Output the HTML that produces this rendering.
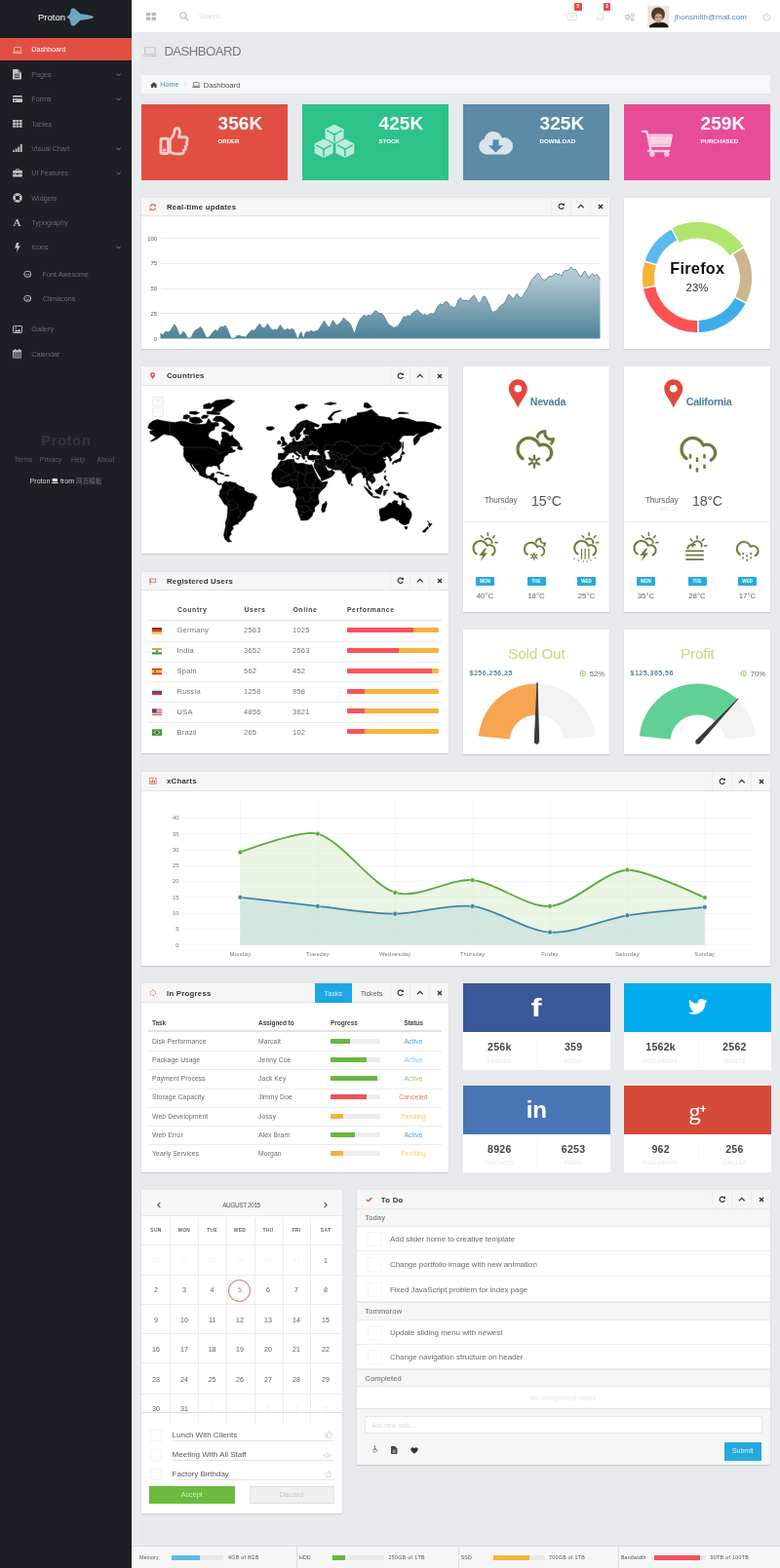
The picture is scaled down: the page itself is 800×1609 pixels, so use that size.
<!DOCTYPE html>
<html lang="en"><head><meta charset="utf-8"><title>Proton - Dashboard</title>
<style>
*{box-sizing:border-box;margin:0;padding:0}
html,body{width:800px;height:1609px;overflow:hidden}
body{background:#e7eaec;font-family:"Liberation Sans","Noto Sans CJK SC",sans-serif;position:relative;color:#666}
div,svg.i{position:absolute}
.t{white-space:nowrap;overflow:visible}
.p{background:#fff;box-shadow:0 1px 1px rgba(0,0,0,.1),0 0 0 .5px rgba(0,0,0,.03)}
.ph{background:#f6f6f6;border-bottom:1px solid #e3e3e3}
</style></head>
<body>
<div style="left:0px;top:0px;width:135px;height:1609px;background:#1c1f23"></div>
<div class="t" style="left:39.00px;top:11.00px;width:40px;line-height:13px;font-size:9.5px;color:#fff;font-weight:400;text-align:left;">Proton</div>
<svg class="i" style="left:68.3px;top:8.3px;" width="28" height="19" viewBox="0 0 28 19"><path d="M.5 9.5L3.500 6.800 5 1.200C6 .500 7.500.300 8.500.800L14.500 6.200 22 7.300 26.500 8.300 28 9.500 26.500 10.700 22 11.700 14.500 12.800 8.500 18.200C7.500 18.700 6 18.500 5 17.800L3.500 12.200z" fill="#6ea5c2"/></svg>
<div style="left:0px;top:39px;width:135px;height:23px;background:#e14f43"></div>
<svg class="i" style="left:13px;top:47.5px;" width="10" height="7" viewBox="0 0 20 14"><rect x="3.2" y="1" width="13.6" height="9" rx="1" fill="none" stroke="#f7c9c4" stroke-width="1.6"/><path d="M0 11.6h20v.6c0 .8-.8 1.4-1.8 1.4H1.8C.8 13.6 0 13 0 12.2z" fill="#f7c9c4"/></svg>
<div class="t" style="left:32.30px;top:46.20px;width:300px;line-height:10px;font-size:7.2px;color:#fff;font-weight:400;text-align:left;">Dashboard</div>
<svg class="i" style="left:13.0px;top:71.25px;" width="9" height="10.5" viewBox="0 0 12 14"><path d="M1 0h6.5L12 4.5V13a1 1 0 0 1-1 1H1a1 1 0 0 1-1-1V1a1 1 0 0 1 1-1z" fill="#bfc1c3"/><path d="M7.5 0v4.5H12z" fill="#1c1f23" opacity=".55"/><path d="M2.5 7h7M2.5 9.2h7M2.5 11.4h7" stroke="#1c1f23" stroke-width="1"/></svg>
<div class="t" style="left:32.30px;top:72.00px;width:300px;line-height:10px;font-size:7.2px;color:#666b70;font-weight:400;text-align:left;">Pages</div>
<svg class="i" style="left:118.5px;top:75.1px;" width="5.4" height="3.4" viewBox="0 0 8 5"><path d="M.8.8L4 4l3.2-3.2" fill="none" stroke="#5c6166" stroke-width="1.5"/></svg>
<svg class="i" style="left:12.5px;top:97.95px;" width="10" height="7.5" viewBox="0 0 16 12"><rect x="0" y="0" width="16" height="12" rx="1.3" fill="#bfc1c3"/><rect x="0" y="2.6" width="16" height="2.6" fill="#1c1f23"/><rect x="2" y="8" width="3.5" height="1.4" fill="#1c1f23"/></svg>
<div class="t" style="left:32.30px;top:97.20px;width:300px;line-height:10px;font-size:7.2px;color:#666b70;font-weight:400;text-align:left;">Forms</div>
<svg class="i" style="left:118.5px;top:100.3px;" width="5.4" height="3.4" viewBox="0 0 8 5"><path d="M.8.8L4 4l3.2-3.2" fill="none" stroke="#5c6166" stroke-width="1.5"/></svg>
<svg class="i" style="left:12.5px;top:123.0px;" width="10" height="8" viewBox="0 0 16 13"><rect x="0.0" y="0.0" width="4.6" height="3.6" rx=".5" fill="#bfc1c3"/><rect x="5.5" y="0.0" width="4.6" height="3.6" rx=".5" fill="#bfc1c3"/><rect x="11.0" y="0.0" width="4.6" height="3.6" rx=".5" fill="#bfc1c3"/><rect x="0.0" y="4.5" width="4.6" height="3.6" rx=".5" fill="#bfc1c3"/><rect x="5.5" y="4.5" width="4.6" height="3.6" rx=".5" fill="#bfc1c3"/><rect x="11.0" y="4.5" width="4.6" height="3.6" rx=".5" fill="#bfc1c3"/><rect x="0.0" y="9.0" width="4.6" height="3.6" rx=".5" fill="#bfc1c3"/><rect x="5.5" y="9.0" width="4.6" height="3.6" rx=".5" fill="#bfc1c3"/><rect x="11.0" y="9.0" width="4.6" height="3.6" rx=".5" fill="#bfc1c3"/></svg>
<div class="t" style="left:32.30px;top:122.50px;width:300px;line-height:10px;font-size:7.2px;color:#666b70;font-weight:400;text-align:left;">Tables</div>
<svg class="i" style="left:12.5px;top:148.3px;" width="10" height="8" viewBox="0 0 16 13"><rect x="0.0" y="10" width="3" height="3" fill="#bfc1c3"/><rect x="4.2" y="7.5" width="3" height="5.5" fill="#bfc1c3"/><rect x="8.4" y="4.5" width="3" height="8.5" fill="#bfc1c3"/><rect x="12.600000000000001" y="0" width="3" height="13" fill="#bfc1c3"/></svg>
<div class="t" style="left:32.30px;top:147.80px;width:300px;line-height:10px;font-size:7.2px;color:#666b70;font-weight:400;text-align:left;">Visual Chart</div>
<svg class="i" style="left:118.5px;top:150.9px;" width="5.4" height="3.4" viewBox="0 0 8 5"><path d="M.8.8L4 4l3.2-3.2" fill="none" stroke="#5c6166" stroke-width="1.5"/></svg>
<svg class="i" style="left:12.5px;top:173.35px;" width="10" height="8.5" viewBox="0 0 16 14"><path d="M5.5 3V1.6C5.5.9 6 .5 6.6.5h2.8c.6 0 1.1.4 1.1 1.1V3" fill="none" stroke="#bfc1c3" stroke-width="1.4"/><path d="M0 4a1 1 0 0 1 1-1h14a1 1 0 0 1 1 1v4H0z" fill="#bfc1c3"/><path d="M0 9h6v1.4h4V9h6v4a1 1 0 0 1-1 1H1a1 1 0 0 1-1-1z" fill="#bfc1c3"/></svg>
<div class="t" style="left:32.30px;top:173.10px;width:300px;line-height:10px;font-size:7.2px;color:#666b70;font-weight:400;text-align:left;">UI Features</div>
<svg class="i" style="left:118.5px;top:176.2px;" width="5.4" height="3.4" viewBox="0 0 8 5"><path d="M.8.8L4 4l3.2-3.2" fill="none" stroke="#5c6166" stroke-width="1.5"/></svg>
<svg class="i" style="left:12.5px;top:198.0px;" width="10" height="10" viewBox="0 0 14 14"><circle cx="7" cy="7" r="4.9" fill="none" stroke="#bfc1c3" stroke-width="3.6"/><path d="M2 2l3 3M12 2L9 5M2 12l3-3M12 12L9 9" stroke="#1c1f23" stroke-width="1.2"/></svg>
<div class="t" style="left:32.30px;top:198.50px;width:300px;line-height:10px;font-size:7.2px;color:#666b70;font-weight:400;text-align:left;">Widgets</div>
<div class="t" style="left:10.50px;top:220.50px;width:14px;line-height:15px;font-size:11px;color:#bfc1c3;font-weight:700;text-align:center;font-family:'Liberation Serif',serif;">A</div>
<div class="t" style="left:32.30px;top:223.80px;width:300px;line-height:10px;font-size:7.2px;color:#666b70;font-weight:400;text-align:left;">Typography</div>
<svg class="i" style="left:14.5px;top:248.6px;" width="6" height="10" viewBox="0 0 8 14"><path d="M2.6 0h3.6L4.6 4.6H8L2.4 14l1.2-6.2H0z" fill="#bfc1c3"/></svg>
<div class="t" style="left:32.30px;top:249.10px;width:300px;line-height:10px;font-size:7.2px;color:#666b70;font-weight:400;text-align:left;">Icons</div>
<svg class="i" style="left:118.5px;top:252.2px;" width="5.4" height="3.4" viewBox="0 0 8 5"><path d="M.8.8L4 4l3.2-3.2" fill="none" stroke="#5c6166" stroke-width="1.5"/></svg>
<svg class="i" style="left:12.5px;top:333.8px;" width="10" height="8" viewBox="0 0 16 13"><rect x=".8" y=".8" width="14.4" height="11.4" rx="1" fill="none" stroke="#bfc1c3" stroke-width="1.6"/><path d="M2.5 10.5l3.3-4 2.4 2.4 2.3-3.4 3 5z" fill="#bfc1c3"/><circle cx="5" cy="4" r="1.3" fill="#bfc1c3"/></svg>
<div class="t" style="left:32.30px;top:333.30px;width:300px;line-height:10px;font-size:7.2px;color:#666b70;font-weight:400;text-align:left;">Gallery</div>
<svg class="i" style="left:12.75px;top:358.45px;" width="9.5" height="9.5" viewBox="0 0 14 14"><path d="M0 3a1 1 0 0 1 1-1h12a1 1 0 0 1 1 1v10a1 1 0 0 1-1 1H1a1 1 0 0 1-1-1z" fill="#bfc1c3"/><rect x="3" y="0" width="1.8" height="3.6" rx=".6" fill="#bfc1c3"/><rect x="9.2" y="0" width="1.8" height="3.6" rx=".6" fill="#bfc1c3"/><rect x="1.3" y="5.2" width="2.2" height="2" fill="#1c1f23"/><rect x="4.3" y="5.2" width="2.2" height="2" fill="#1c1f23"/><rect x="7.3" y="5.2" width="2.2" height="2" fill="#1c1f23"/><rect x="10.3" y="5.2" width="2.2" height="2" fill="#1c1f23"/><rect x="1.3" y="8.0" width="2.2" height="2" fill="#1c1f23"/><rect x="4.3" y="8.0" width="2.2" height="2" fill="#1c1f23"/><rect x="7.3" y="8.0" width="2.2" height="2" fill="#1c1f23"/><rect x="10.3" y="8.0" width="2.2" height="2" fill="#1c1f23"/><rect x="1.3" y="10.8" width="2.2" height="2" fill="#1c1f23"/><rect x="4.3" y="10.8" width="2.2" height="2" fill="#1c1f23"/><rect x="7.3" y="10.8" width="2.2" height="2" fill="#1c1f23"/><rect x="10.3" y="10.8" width="2.2" height="2" fill="#1c1f23"/></svg>
<div class="t" style="left:32.30px;top:358.70px;width:300px;line-height:10px;font-size:7.2px;color:#666b70;font-weight:400;text-align:left;">Calendar</div>
<svg class="i" style="left:24.2px;top:277.1px;" width="8.4" height="8.4" viewBox="0 0 14 14"><ellipse cx="7" cy="7" rx="5.6" ry="5" fill="none" stroke="#aeb1b4" stroke-width="1.8"/><path d="M4 8h6" stroke="#aeb1b4" stroke-width="1.4"/></svg>
<div class="t" style="left:43.70px;top:276.60px;width:300px;line-height:10px;font-size:7.2px;color:#666b70;font-weight:400;text-align:left;">Font Awesome</div>
<svg class="i" style="left:24.2px;top:302.4px;" width="8.4" height="8.4" viewBox="0 0 14 14"><ellipse cx="7" cy="7" rx="5.6" ry="5" fill="none" stroke="#aeb1b4" stroke-width="1.8"/><path d="M4.2 6h1.6M8.2 6h1.6M4.5 9h5" stroke="#aeb1b4" stroke-width="1.3"/></svg>
<div class="t" style="left:43.70px;top:301.90px;width:300px;line-height:10px;font-size:7.2px;color:#666b70;font-weight:400;text-align:left;">Climacons</div>
<div class="t" style="left:0.30px;top:441.50px;width:135px;line-height:21px;font-size:14.8px;color:#32363b;font-weight:700;text-align:center;letter-spacing:.55px;">Proton</div>
<div class="t" style="left:4.00px;top:466.50px;width:40px;line-height:10px;font-size:6.8px;color:#5b6066;font-weight:400;text-align:center;">Terms</div>
<div class="t" style="left:32.00px;top:466.50px;width:40px;line-height:10px;font-size:6.8px;color:#5b6066;font-weight:400;text-align:center;">Privacy</div>
<div class="t" style="left:60.00px;top:466.50px;width:40px;line-height:10px;font-size:6.8px;color:#5b6066;font-weight:400;text-align:center;">Help</div>
<div class="t" style="left:88.50px;top:466.50px;width:40px;line-height:10px;font-size:6.8px;color:#5b6066;font-weight:400;text-align:center;">About</div>
<div class="t" style="left:0;top:489px;width:135px;line-height:10px;font-size:7.1px;color:#d9dadb;text-align:center">Proton <svg width="6.500" height="5.200" viewBox="0 0 10 8" style="vertical-align:-0.5px"><rect x="1" y="0" width="8" height="5" rx=".600" fill="#e8e8e8"/><rect x="0" y="6" width="10" height="1.600" rx=".500" fill="#e8e8e8"/></svg> from <span style="color:#74797e;font-size:6.6px">网页模板</span></div>
<div style="left:135px;top:33px;width:8.5px;height:1576px;background:#eaedef"></div>
<div style="left:135px;top:0px;width:665px;height:33px;background:#fff"></div>
<svg class="i" style="left:150px;top:13px;" width="10" height="8" viewBox="0 0 10 8"><rect x="0" y="0" width="4.4" height="3.2" rx=".5" fill="#b4b7ba"/><rect x="5.6" y="0" width="4.4" height="3.2" rx=".5" fill="#b4b7ba"/><rect x="0" y="4.6" width="4.4" height="3.2" rx=".5" fill="#b4b7ba"/><rect x="5.6" y="4.6" width="4.4" height="3.2" rx=".5" fill="#b4b7ba"/></svg>
<svg class="i" style="left:184px;top:12px;" width="9.5" height="9.5" viewBox="0 0 10 10"><circle cx="4.1" cy="4.1" r="3.2" fill="none" stroke="#c2c4c6" stroke-width="1.4"/><path d="M6.5 6.5L9.3 9.3" stroke="#c2c4c6" stroke-width="1.7" stroke-linecap="round"/></svg>
<div class="t" style="left:204.00px;top:12.30px;width:300px;line-height:10px;font-size:6.8px;color:#dcdee0;font-weight:400;text-align:left;">Search...</div>
<svg class="i" style="left:580.5px;top:13.2px;" width="11" height="8" viewBox="0 0 12 9"><rect x=".6" y=".6" width="10.8" height="7.8" rx="1" fill="none" stroke="#dfe1e3" stroke-width="1.1"/><path d="M1 2l5 3.6L11 2" fill="none" stroke="#dfe1e3" stroke-width="1.1"/></svg>
<div style="left:588.8px;top:3.2px;width:7.8px;height:8px;background:#ea4b4b;border-radius:.8px"></div>
<div class="t" style="left:588.70px;top:4.30px;width:8px;line-height:6px;font-size:4.5px;color:#fff;font-weight:700;text-align:center;">5</div>
<svg class="i" style="left:611px;top:12.3px;" width="9.5" height="10" viewBox="0 0 10 11"><path d="M5 1C3 1 2 2.6 2 4.6 2 7 1.2 8 .6 8.6h8.8C8.8 8 8 7 8 4.6 8 2.6 7 1 5 1z" fill="none" stroke="#dfe1e3" stroke-width="1.1"/><path d="M4 9.6a1 1 0 0 0 2 0" fill="none" stroke="#dfe1e3" stroke-width="1"/></svg>
<div style="left:618.6px;top:3.2px;width:7.8px;height:8px;background:#ea4b4b;border-radius:.8px"></div>
<div class="t" style="left:618.50px;top:4.30px;width:8px;line-height:6px;font-size:4.5px;color:#fff;font-weight:700;text-align:center;">3</div>
<svg class="i" style="left:639.5px;top:12.5px;" width="11" height="9" viewBox="0 0 12 10"><circle cx="4" cy="5" r="2.5" fill="none" stroke="#c6c8ca" stroke-width="2" stroke-dasharray="1.6 1"/><circle cx="4" cy="5" r="1.9" fill="none" stroke="#c6c8ca" stroke-width="1.2"/><circle cx="9.6" cy="2.4" r="1.5" fill="none" stroke="#c6c8ca" stroke-width="1.3"/><circle cx="9.6" cy="7.6" r="1.5" fill="none" stroke="#c6c8ca" stroke-width="1.3"/></svg>
<svg class="i" style="left:664.3px;top:6.3px" width="22.5" height="22.3" viewBox="0 0 45 45"><defs><filter id="avb" x="-10%" y="-10%" width="120%" height="120%"><feGaussianBlur stdDeviation="1.3"/></filter><clipPath id="avc"><rect width="45" height="45"/></clipPath></defs><rect width="45" height="45" fill="#e4e4e0"/><g clip-path="url(#avc)"><g filter="url(#avb)"><path d="M4 47V41c5-4 11-6 15-6.500h12c5 .500 9 2.500 12 6.500v6z" fill="#1c1917"/><ellipse cx="22" cy="17.500" rx="14" ry="14.500" fill="#4a3a2b"/><ellipse cx="23" cy="25" rx="8.300" ry="10.500" fill="#cda38b"/><path d="M14 20c3-4 13-5 18 0-1-6-4-9-9-9s-8 4-9 9z" fill="#5b4534"/><path d="M17 23.500h5M25 23.500h5" stroke="#6b4a3a" stroke-width="1.600"/><path d="M19 31c2 1.500 6 1.500 8 0" stroke="#a8705f" stroke-width="1.300" fill="none"/></g></g></svg>
<div class="t" style="left:692.00px;top:11.70px;width:300px;line-height:11px;font-size:7.95px;color:#4e8fb5;font-weight:400;text-align:left;">jhonsmith@mail.com</div>
<svg class="i" style="left:781.5px;top:13px;" width="8.5" height="8.5" viewBox="0 0 10 10"><path d="M3 2.2A3.9 3.9 0 1 0 7 2.2" fill="none" stroke="#cfd1d3" stroke-width="1.2" stroke-linecap="round"/><path d="M5 .6v4" stroke="#cfd1d3" stroke-width="1.2" stroke-linecap="round"/></svg>
<svg class="i" style="left:146px;top:47.5px;" width="15.5" height="10.5" viewBox="0 0 20 14"><rect x="3.2" y="1" width="13.6" height="9" rx="1" fill="none" stroke="#c3c7ca" stroke-width="1.6"/><path d="M0 11.6h20v.6c0 .8-.8 1.4-1.8 1.4H1.8C.8 13.6 0 13 0 12.2z" fill="#c3c7ca"/></svg>
<div class="t" style="left:168.40px;top:44.30px;width:300px;line-height:18px;font-size:13.2px;color:#767d84;font-weight:400;text-align:left;letter-spacing:-.55px;">DASHBOARD</div>
<div style="left:145px;top:77.3px;width:645px;height:19px;background:#f7f8f9"></div>
<svg class="i" style="left:153.6px;top:83.6px;" width="7.6" height="6.8" viewBox="0 0 10 9"><path d="M5 .3L0 4.6h1.4V8.7h2.7V5.9h1.8v2.8h2.7V4.6H10z" fill="#444"/></svg>
<div class="t" style="left:164.30px;top:82.30px;width:300px;line-height:10px;font-size:7.2px;color:#3d8fc4;font-weight:400;text-align:left;">Home</div>
<div class="t" style="left:189.00px;top:82.30px;width:300px;line-height:10px;font-size:6.8px;color:#d5d5d5;font-weight:400;text-align:left;">/</div>
<svg class="i" style="left:197px;top:84.4px;" width="8.5" height="5.8" viewBox="0 0 20 14"><rect x="3.2" y="1" width="13.6" height="9" rx="1" fill="none" stroke="#555" stroke-width="1.6"/><path d="M0 11.6h20v.6c0 .8-.8 1.4-1.8 1.4H1.8C.8 13.6 0 13 0 12.2z" fill="#555"/></svg>
<div class="t" style="left:208.50px;top:81.80px;width:300px;line-height:11px;font-size:7.8px;color:#555;font-weight:400;text-align:left;">Dashboard</div>
<div style="left:145px;top:107px;width:150px;height:78px;background:#e14f43"></div>
<svg class="i" style="left:162.95px;top:129.25px;" width="31.5" height="31.5" viewBox="0 0 32 32"><path d="M11.5 14.5c2.5-2.2 4.2-4.6 4.6-8.6.2-2 .9-3.4 2.6-3.4 2 0 3.1 1.7 3.1 4.2 0 1.9-.6 3.6-1.3 5.2h6.2c1.7 0 3 1.2 3 2.8 0 1-.5 1.9-1.200 2.400.5.5.8 1.200.8 2 0 1.200-.7 2.200-1.700 2.600.2.400.3.800.3 1.300 0 1.300-.9 2.300-2.100 2.600.1.300.1.600.1.900 0 1.700-1.400 2.800-3.400 2.800h-4.600c-2.600 0-4.500-.9-6.400-1.700z" fill="none" stroke="#f7cbc6" stroke-width="2.9" stroke-linejoin="round"/><rect x="2" y="13.5" width="7.5" height="15.5" rx="1" fill="none" stroke="#f7cbc6" stroke-width="2.9"/><rect x="4.2" y="24" width="3" height="3" fill="#f7cbc6"/></svg>
<div class="t" style="left:223.50px;top:112.80px;width:70px;line-height:27px;font-size:19px;color:#fff;font-weight:700;text-align:left;letter-spacing:.1px;">356K</div>
<div class="t" style="left:223.50px;top:140.30px;width:70px;line-height:9px;font-size:6.1px;color:#fff;font-weight:700;text-align:left;letter-spacing:0;">ORDER</div>
<div style="left:310px;top:107px;width:150px;height:78px;background:#2dc28a"></div>
<svg class="i" style="left:322.0px;top:128.0px;" width="42" height="34" viewBox="0 0 42 34"><path d="M12.1 4.9L21 0.3000000000000007L29.9 4.9L29.9 13.700000000000001L21 18.3L12.1 13.700000000000001Z" fill="#b9eed8" stroke="#b9eed8" stroke-width="1.2" stroke-linejoin="round"/><path d="M13.7 6.2L21 10.1L28.299999999999997 6.2M21 10.1L21 16.900000000000002" fill="none" stroke="#2dc28a" stroke-width="1.5" stroke-linejoin="round" stroke-linecap="round"/><path d="M1.1999999999999993 19.9L10.1 15.299999999999999L19.0 19.9L19.0 28.700000000000003L10.1 33.300000000000004L1.1999999999999993 28.700000000000003Z" fill="#b9eed8" stroke="#b9eed8" stroke-width="1.2" stroke-linejoin="round"/><path d="M2.7999999999999994 21.2L10.1 25.1L17.4 21.2M10.1 25.1L10.1 31.900000000000006" fill="none" stroke="#2dc28a" stroke-width="1.5" stroke-linejoin="round" stroke-linecap="round"/><path d="M23.0 19.9L31.9 15.299999999999999L40.8 19.9L40.8 28.700000000000003L31.9 33.300000000000004L23.0 28.700000000000003Z" fill="#b9eed8" stroke="#b9eed8" stroke-width="1.2" stroke-linejoin="round"/><path d="M24.6 21.2L31.9 25.1L39.199999999999996 21.2M31.9 25.1L31.9 31.900000000000006" fill="none" stroke="#2dc28a" stroke-width="1.5" stroke-linejoin="round" stroke-linecap="round"/></svg>
<div class="t" style="left:388.50px;top:112.80px;width:70px;line-height:27px;font-size:19px;color:#fff;font-weight:700;text-align:left;letter-spacing:.1px;">425K</div>
<div class="t" style="left:388.50px;top:140.30px;width:70px;line-height:9px;font-size:6.1px;color:#fff;font-weight:700;text-align:left;letter-spacing:0;">STOCK</div>
<div style="left:475px;top:107px;width:150px;height:78px;background:#5b8ba5"></div>
<svg class="i" style="left:490.2px;top:130.75px;" width="37" height="28.5" viewBox="0 0 36 28"><path d="M9 27a8 8 0 0 1-2.5-15.600A8.500 8.500 0 0 1 15 4a10 10 0 0 1 9.500 6.500 6.500 6.500 0 0 1 3.500-.5A8.600 8.600 0 0 1 28 27z" fill="#d9e4ea"/><path d="M15 12h6v6h4.500L18 25l-7.500-7H15z" fill="#5b8ba5"/></svg>
<div class="t" style="left:553.50px;top:112.80px;width:70px;line-height:27px;font-size:19px;color:#fff;font-weight:700;text-align:left;letter-spacing:.1px;">325K</div>
<div class="t" style="left:553.50px;top:140.30px;width:70px;line-height:9px;font-size:6.1px;color:#fff;font-weight:700;text-align:left;letter-spacing:0;">DOWNLOAD</div>
<div style="left:640px;top:107px;width:150px;height:78px;background:#e84c96"></div>
<svg class="i" style="left:657.7px;top:132.5px;" width="32" height="28" viewBox="0 0 34 30"><path d="M0 2h5.500l1.200 4H33l-2.500 12H9.500" fill="none" stroke="#f9cfe3" stroke-width="2.600" stroke-linejoin="round"/><path d="M6.700 6l3 14.500c.3 1.500-.7 3-2.200 3H31" fill="none" stroke="#f9cfe3" stroke-width="2.600" stroke-linejoin="round"/><path d="M7.500 7.500h24l-2 9H9.500z" fill="#f9cfe3"/><circle cx="11.500" cy="27" r="2.800" fill="#f9cfe3"/><circle cx="27.500" cy="27" r="2.800" fill="#f9cfe3"/></svg>
<div class="t" style="left:718.50px;top:112.80px;width:70px;line-height:27px;font-size:19px;color:#fff;font-weight:700;text-align:left;letter-spacing:.1px;">259K</div>
<div class="t" style="left:718.50px;top:140.30px;width:70px;line-height:9px;font-size:6.1px;color:#fff;font-weight:700;text-align:left;letter-spacing:0;">PURCHASED</div>
<div class="p" style="left:145px;top:202.5px;width:480px;height:155px;"></div>
<div class="ph" style="left:145px;top:202.5px;width:480px;height:19.5px;"></div>
<svg class="i" style="left:153.25px;top:208.5px;" width="7.5" height="7.5" viewBox="0 0 10 10"><path d="M1.300 4.300A3.800 3.800 0 0 1 8 2.400" fill="none" stroke="#e0574c" stroke-width="1.500"/><path d="M9.300.500v3.200H6.100z" fill="#e0574c"/><path d="M8.700 5.700A3.800 3.800 0 0 1 2 7.600" fill="none" stroke="#e0574c" stroke-width="1.500"/><path d="M.700 9.500V6.300h3.200z" fill="#e0574c"/></svg>
<div class="t" style="left:171.00px;top:206.85px;width:300px;line-height:11px;font-size:7.8px;color:#333;font-weight:700;text-align:left;letter-spacing:.24px;">Real-time updates</div>
<div style="left:565px;top:202.5px;width:1px;height:18.5px;background:#ededed"></div>
<svg class="i" style="left:571.7px;top:208.45px;" width="7.6" height="7.6" viewBox="0 0 10 10"><path d="M8.200 6.200A3.500 3.500 0 1 1 7.500 2.500" fill="none" stroke="#333" stroke-width="1.500"/><path d="M9.300.600v3.300H6z" fill="#333"/></svg>
<div style="left:585px;top:202.5px;width:1px;height:18.5px;background:#ededed"></div>
<svg class="i" style="left:591.7px;top:209.4px;" width="7.6" height="5.7" viewBox="0 0 8 6"><path d="M.9 4.6L4 1.5l3.1 3.100" fill="none" stroke="#333" stroke-width="1.35"/></svg>
<div style="left:605px;top:202.5px;width:1px;height:18.5px;background:#ededed"></div>
<svg class="i" style="left:612.5px;top:209.25px;" width="6" height="6" viewBox="0 0 8 8"><path d="M1.300 1.300l5.400 5.400M6.700 1.300L1.300 6.700" stroke="#333" stroke-width="1.900"/></svg>
<div style="left:164.5px;top:347px;width:451.0px;height:1px;background:#dcdcdc"></div>
<div class="t" style="left:141.00px;top:343.80px;width:20px;line-height:8px;font-size:5.8px;color:#555;font-weight:400;text-align:right;">0</div>
<div style="left:164.5px;top:321px;width:451.0px;height:1px;background:#e9e9e9"></div>
<div class="t" style="left:141.00px;top:317.98px;width:20px;line-height:8px;font-size:5.8px;color:#555;font-weight:400;text-align:right;">25</div>
<div style="left:164.5px;top:296px;width:451.0px;height:1px;background:#e9e9e9"></div>
<div class="t" style="left:141.00px;top:292.15px;width:20px;line-height:8px;font-size:5.8px;color:#555;font-weight:400;text-align:right;">50</div>
<div style="left:164.5px;top:270px;width:451.0px;height:1px;background:#e9e9e9"></div>
<div class="t" style="left:141.00px;top:266.33px;width:20px;line-height:8px;font-size:5.8px;color:#555;font-weight:400;text-align:right;">75</div>
<div style="left:164.5px;top:244px;width:451.0px;height:1px;background:#e9e9e9"></div>
<div class="t" style="left:141.00px;top:240.50px;width:20px;line-height:8px;font-size:5.8px;color:#555;font-weight:400;text-align:right;">100</div>
<svg class="i" style="left:0;top:0" width="800" height="360" viewBox="0 0 800 360"><defs><linearGradient id="rg" x1="0" y1="273" x2="0" y2="347" gradientUnits="userSpaceOnUse"><stop offset="0" stop-color="#c3d3da"/><stop offset=".45" stop-color="#8fafbd"/><stop offset="1" stop-color="#4d8298"/></linearGradient></defs><polygon points="164.5,347.3 164.4,342.1 167.0,343.7 169.0,341.1 171.0,340.1 173.0,341.1 175.0,339.0 177.0,335.9 179.0,332.8 181.0,335.9 183.0,341.1 184.0,343.7 186.0,343.2 188.0,340.1 190.0,342.1 192.0,346.3 193.5,347.3 196.0,346.8 198.0,342.1 200.0,339.0 203.0,337.5 205.5,335.4 207.0,337.0 209.0,341.1 211.0,345.8 213.0,346.8 216.0,344.2 218.0,341.1 221.0,338.5 223.0,340.1 225.0,337.0 227.0,334.9 229.0,335.9 231.0,333.9 233.0,337.0 235.0,342.1 237.0,346.8 240.0,347.3 243.0,344.7 246.0,344.2 248.0,345.8 250.0,345.2 252.0,346.3 254.0,343.2 256.0,341.1 258.5,338.5 260.0,339.6 262.0,338.0 264.0,334.9 266.5,332.3 268.0,334.9 270.0,337.0 272.0,335.9 274.5,332.3 276.0,334.9 278.0,337.5 280.0,339.0 282.0,338.0 284.0,339.0 286.0,335.9 287.5,333.4 289.0,335.9 291.0,338.5 293.0,339.0 295.0,337.0 297.0,339.0 299.0,337.5 301.0,338.0 303.0,342.1 304.5,346.8 306.0,347.3 308.0,342.1 309.0,340.6 310.0,344.2 311.5,347.3 313.0,342.1 315.0,340.1 317.0,341.1 319.0,339.0 321.0,340.6 323.0,340.1 325.0,339.6 327.0,338.0 329.0,334.9 331.0,331.8 332.5,329.2 334.0,331.8 336.0,334.9 338.0,335.9 340.0,331.8 341.5,328.7 343.0,330.8 345.0,333.9 347.0,332.8 349.0,330.8 351.0,328.7 352.5,326.1 354.0,327.7 356.0,329.7 358.0,330.8 360.0,333.9 362.0,339.0 363.0,342.1 364.5,340.1 366.0,334.9 368.0,329.7 370.0,326.6 372.0,324.6 374.0,323.5 376.0,324.6 378.0,323.0 380.0,324.1 382.0,322.5 384.0,319.4 386.0,318.9 388.0,321.0 390.0,321.5 392.0,322.0 394.0,324.6 396.0,328.7 398.0,331.8 400.0,333.9 402.0,334.9 404.0,336.5 406.0,335.4 408.0,334.9 410.0,331.8 412.0,328.7 414.0,324.6 416.0,325.6 418.0,323.5 420.0,324.6 422.0,322.5 424.0,320.4 426.0,319.4 428.0,317.9 430.0,320.4 432.0,321.5 434.0,323.5 436.0,322.5 438.0,324.1 440.0,322.5 442.0,321.5 444.0,322.5 446.0,320.4 448.0,316.3 450.0,313.2 452.0,311.7 454.0,313.2 456.0,310.1 458.0,309.6 460.0,311.1 462.0,315.3 464.0,314.2 466.0,316.3 468.0,313.2 470.0,308.0 472.0,305.5 474.0,308.0 476.0,308.6 478.0,308.0 480.0,309.1 482.0,308.0 484.0,304.9 486.0,302.9 488.0,306.0 490.0,310.1 492.0,311.1 494.0,308.0 496.0,303.9 498.0,304.9 500.0,309.1 502.0,313.2 504.0,319.4 506.0,320.4 508.0,319.4 510.0,318.4 512.0,315.3 514.0,313.2 516.0,312.2 518.0,310.1 520.0,306.0 522.0,301.8 524.0,303.9 526.0,307.0 528.0,304.9 530.0,301.3 532.0,303.9 534.0,306.0 536.0,304.9 538.0,300.8 540.0,297.7 542.0,294.6 544.0,289.5 546.0,286.4 548.0,284.3 550.0,282.2 552.0,280.2 554.0,283.3 556.0,286.4 558.0,287.4 560.0,286.9 562.0,284.3 564.0,283.3 566.0,283.8 568.0,282.2 570.0,280.2 572.0,281.7 574.0,281.2 576.0,283.3 578.0,279.1 580.0,277.1 582.0,278.1 584.0,276.0 586.0,274.0 588.0,277.1 590.0,276.0 592.0,279.1 594.0,282.2 596.0,284.3 598.0,280.2 600.0,278.1 602.0,282.2 604.0,285.3 606.0,282.2 608.0,280.7 610.0,283.3 612.0,281.2 614.0,284.3 615.5,286.9 615.5,347.3" fill="url(#rg)"/><polyline points="164.4,342.1 167.0,343.7 169.0,341.1 171.0,340.1 173.0,341.1 175.0,339.0 177.0,335.9 179.0,332.8 181.0,335.9 183.0,341.1 184.0,343.7 186.0,343.2 188.0,340.1 190.0,342.1 192.0,346.3 193.5,347.3 196.0,346.8 198.0,342.1 200.0,339.0 203.0,337.5 205.5,335.4 207.0,337.0 209.0,341.1 211.0,345.8 213.0,346.8 216.0,344.2 218.0,341.1 221.0,338.5 223.0,340.1 225.0,337.0 227.0,334.9 229.0,335.9 231.0,333.9 233.0,337.0 235.0,342.1 237.0,346.8 240.0,347.3 243.0,344.7 246.0,344.2 248.0,345.8 250.0,345.2 252.0,346.3 254.0,343.2 256.0,341.1 258.5,338.5 260.0,339.6 262.0,338.0 264.0,334.9 266.5,332.3 268.0,334.9 270.0,337.0 272.0,335.9 274.5,332.3 276.0,334.9 278.0,337.5 280.0,339.0 282.0,338.0 284.0,339.0 286.0,335.9 287.5,333.4 289.0,335.9 291.0,338.5 293.0,339.0 295.0,337.0 297.0,339.0 299.0,337.5 301.0,338.0 303.0,342.1 304.5,346.8 306.0,347.3 308.0,342.1 309.0,340.6 310.0,344.2 311.5,347.3 313.0,342.1 315.0,340.1 317.0,341.1 319.0,339.0 321.0,340.6 323.0,340.1 325.0,339.6 327.0,338.0 329.0,334.9 331.0,331.8 332.5,329.2 334.0,331.8 336.0,334.9 338.0,335.9 340.0,331.8 341.5,328.7 343.0,330.8 345.0,333.9 347.0,332.8 349.0,330.8 351.0,328.7 352.5,326.1 354.0,327.7 356.0,329.7 358.0,330.8 360.0,333.9 362.0,339.0 363.0,342.1 364.5,340.1 366.0,334.9 368.0,329.7 370.0,326.6 372.0,324.6 374.0,323.5 376.0,324.6 378.0,323.0 380.0,324.1 382.0,322.5 384.0,319.4 386.0,318.9 388.0,321.0 390.0,321.5 392.0,322.0 394.0,324.6 396.0,328.7 398.0,331.8 400.0,333.9 402.0,334.9 404.0,336.5 406.0,335.4 408.0,334.9 410.0,331.8 412.0,328.7 414.0,324.6 416.0,325.6 418.0,323.5 420.0,324.6 422.0,322.5 424.0,320.4 426.0,319.4 428.0,317.9 430.0,320.4 432.0,321.5 434.0,323.5 436.0,322.5 438.0,324.1 440.0,322.5 442.0,321.5 444.0,322.5 446.0,320.4 448.0,316.3 450.0,313.2 452.0,311.7 454.0,313.2 456.0,310.1 458.0,309.6 460.0,311.1 462.0,315.3 464.0,314.2 466.0,316.3 468.0,313.2 470.0,308.0 472.0,305.5 474.0,308.0 476.0,308.6 478.0,308.0 480.0,309.1 482.0,308.0 484.0,304.9 486.0,302.9 488.0,306.0 490.0,310.1 492.0,311.1 494.0,308.0 496.0,303.9 498.0,304.9 500.0,309.1 502.0,313.2 504.0,319.4 506.0,320.4 508.0,319.4 510.0,318.4 512.0,315.3 514.0,313.2 516.0,312.2 518.0,310.1 520.0,306.0 522.0,301.8 524.0,303.9 526.0,307.0 528.0,304.9 530.0,301.3 532.0,303.9 534.0,306.0 536.0,304.9 538.0,300.8 540.0,297.7 542.0,294.6 544.0,289.5 546.0,286.4 548.0,284.3 550.0,282.2 552.0,280.2 554.0,283.3 556.0,286.4 558.0,287.4 560.0,286.9 562.0,284.3 564.0,283.3 566.0,283.8 568.0,282.2 570.0,280.2 572.0,281.7 574.0,281.2 576.0,283.3 578.0,279.1 580.0,277.1 582.0,278.1 584.0,276.0 586.0,274.0 588.0,277.1 590.0,276.0 592.0,279.1 594.0,282.2 596.0,284.3 598.0,280.2 600.0,278.1 602.0,282.2 604.0,285.3 606.0,282.2 608.0,280.7 610.0,283.3 612.0,281.2 614.0,284.3 615.5,286.9" fill="none" stroke="#5c8595" stroke-width=".9" stroke-linejoin="round"/></svg>
<div class="p" style="left:640px;top:202.5px;width:150px;height:155px;"></div>
<svg class="i" style="left:0;top:0" width="800" height="360" viewBox="0 0 800 360"><path d="M688.26,233.64A57.9,57.9 0 0 1 763.28,253.04L748.19,263.03A39.8,39.8 0 0 0 696.62,249.70Z" fill="#b1e46c" stroke="#fff" stroke-width="1.300"/><path d="M762.36,253.65A56.8,56.8 0 0 1 765.38,311.23L753.41,304.99A43.3,43.3 0 0 0 751.11,261.10Z" fill="#cfb58d" stroke="#fff" stroke-width="1.300"/><path d="M765.38,311.23A56.8,56.8 0 0 1 715.99,341.79L715.76,328.29A43.3,43.3 0 0 0 753.41,304.99Z" fill="#3caee8" stroke="#fff" stroke-width="1.300"/><path d="M715.99,341.79A56.8,56.8 0 0 1 659.24,295.84L672.50,293.26A43.3,43.3 0 0 0 715.76,328.29Z" fill="#fb5353" stroke="#fff" stroke-width="1.300"/><path d="M659.24,295.84A56.8,56.8 0 0 1 660.83,267.92L673.70,271.98A43.3,43.3 0 0 0 672.50,293.26Z" fill="#f8b335" stroke="#fff" stroke-width="1.300"/><path d="M660.83,267.92A56.8,56.8 0 0 1 688.77,234.62L695.01,246.59A43.3,43.3 0 0 0 673.70,271.98Z" fill="#5cb9ee" stroke="#fff" stroke-width="1.300"/></svg>
<div class="t" style="left:665.30px;top:264.30px;width:100px;line-height:23px;font-size:16.2px;color:#111;font-weight:700;text-align:center;letter-spacing:.3px;">Firefox</div>
<div class="t" style="left:665.00px;top:287.00px;width:100px;line-height:16px;font-size:11.4px;color:#2a2a2a;font-weight:400;text-align:center;">23%</div>
<div class="p" style="left:145px;top:376px;width:315px;height:192px;"></div>
<div class="ph" style="left:145px;top:376px;width:315px;height:19.5px;"></div>
<svg class="i" style="left:154.4px;top:382.15px;" width="5.2" height="7.2" viewBox="0 0 20 28"><path d="M10 0C4.500 0 0 4.300 0 9.800 0 16 6.500 20.500 10 28c3.500-7.500 10-12 10-18.200C20 4.300 15.500 0 10 0z" fill="#e0574c"/><circle cx="10" cy="9.800" r="3.800" fill="#f6f6f6"/></svg>
<div class="t" style="left:171.00px;top:380.35px;width:300px;line-height:11px;font-size:7.8px;color:#333;font-weight:700;text-align:left;letter-spacing:.24px;">Countries</div>
<div style="left:400px;top:376px;width:1px;height:18.5px;background:#ededed"></div>
<svg class="i" style="left:406.7px;top:381.95px;" width="7.6" height="7.6" viewBox="0 0 10 10"><path d="M8.200 6.200A3.500 3.500 0 1 1 7.500 2.500" fill="none" stroke="#333" stroke-width="1.500"/><path d="M9.300.600v3.300H6z" fill="#333"/></svg>
<div style="left:420px;top:376px;width:1px;height:18.5px;background:#ededed"></div>
<svg class="i" style="left:426.7px;top:382.9px;" width="7.6" height="5.7" viewBox="0 0 8 6"><path d="M.9 4.6L4 1.5l3.1 3.100" fill="none" stroke="#333" stroke-width="1.35"/></svg>
<div style="left:440px;top:376px;width:1px;height:18.5px;background:#ededed"></div>
<svg class="i" style="left:447.5px;top:382.75px;" width="6" height="6" viewBox="0 0 8 8"><path d="M1.300 1.300l5.400 5.400M6.700 1.300L1.300 6.700" stroke="#333" stroke-width="1.900"/></svg>
<svg class="i" style="left:0;top:0" width="800" height="570" viewBox="0 0 800 570"><path d="M151.6,439.0L153.3,434.8L156.6,432.1L161.3,430.5L166.7,431.8L174.3,433.0L179.4,433.6L185.3,432.2L190.3,432.8L196.2,434.8L202.1,435.5L207.2,435.5L211.4,434.8L213.9,429.5L217.3,434.0L221.5,433.3L224.0,434.0L224.4,436.9L220.6,437.6L219.8,441.1L216.4,442.4L213.9,445.0L213.9,447.9L215.6,449.9L218.9,450.8L221.5,452.0L224.0,452.9L224.0,454.6L225.7,456.7L226.5,455.8L226.5,452.9L228.2,449.9L227.4,447.5L227.4,443.3L231.6,443.7L234.1,445.0L235.8,448.1L238.3,446.3L239.1,448.7L241.7,451.1L244.6,453.5L246.1,455.8L243.4,458.0L238.3,457.8L235.8,459.1L238.3,459.3L238.3,461.2L241.7,462.3L240.0,463.8L237.5,464.4L234.1,464.9L233.7,466.7L230.7,467.9L229.5,470.4L229.0,473.3L226.5,475.2L224.8,477.0L225.7,480.7L225.3,482.3L224.0,480.7L223.2,478.4L221.5,478.0L218.1,477.8L217.3,478.9L213.9,478.4L211.4,479.8L210.9,482.5L210.7,485.2L212.2,487.8L213.9,488.5L216.4,487.8L216.8,486.0L219.8,485.6L219.4,488.7L218.5,490.4L222.3,490.6L222.9,492.1L222.7,493.8L222.7,495.5L224.8,496.6L226.1,496.0L227.8,496.8L227.8,497.7L226.9,496.8L225.7,497.8L224.4,497.2L223.2,497.0L221.5,495.5L219.8,493.4L218.9,493.0L216.0,492.1L213.9,490.4L211.8,490.7L209.7,489.8L207.2,488.7L204.6,487.4L204.2,485.2L202.1,482.5L198.7,478.9L197.9,476.7L196.5,476.6L196.6,478.0L198.3,480.2L200.4,483.4L200.8,484.3L198.7,482.5L197.1,480.2L195.8,478.0L194.5,475.6L193.3,474.2L191.6,473.7L190.3,471.3L188.6,468.4L188.2,465.4L188.6,462.3L188.0,459.7L189.5,459.1L187.8,458.0L185.3,456.3L183.6,452.9L181.1,449.9L178.5,448.1L175.2,446.6L171.8,446.3L168.4,445.6L165.5,446.9L163.4,448.7L160.9,450.5L157.5,452.3L154.1,452.9L156.6,451.1L160.0,448.7L158.3,447.7L156.6,446.3L154.1,445.0L153.7,442.4L157.5,441.1L154.1,440.4ZM225.7,427.1L229.0,428.2L233.3,431.0L236.6,434.0L240.8,437.6L238.3,442.4L235.8,443.0L232.4,441.1L227.4,439.7L231.6,436.2L227.4,432.5L221.5,432.5L218.1,431.0L221.5,427.1ZM194.5,432.5L198.7,434.8L204.6,434.3L208.0,432.5L204.6,428.7L200.4,427.9L194.5,428.7ZM217.3,422.0L225.7,422.5L229.0,419.3L235.8,415.6L240.8,411.6L234.1,409.6L221.5,411.0L216.4,414.6L219.8,418.4ZM187.8,429.5L192.0,430.2L195.4,427.1L192.0,425.4L188.6,426.2ZM212.2,424.6L217.3,425.2L224.8,425.4L225.7,423.7L218.9,422.2L212.2,422.0ZM194.5,424.6L200.4,425.4L204.6,423.7L200.4,422.0L194.5,422.5ZM207.2,429.5L212.2,429.1L213.9,426.2L208.8,425.9L206.3,427.9ZM208.8,419.3L215.6,419.3L218.9,416.5L214.7,413.6L208.8,415.6ZM243.4,460.5L245.9,461.4L248.4,461.5L248.6,459.6L246.3,458.0L245.9,456.3L244.2,458.5ZM221.5,485.2L224.0,484.3L227.4,484.9L230.3,486.7L227.8,487.0L224.8,485.3ZM230.4,488.2L232.4,487.1L235.4,488.1L233.3,488.8ZM272.8,439.0L274.5,437.9L279.6,437.8L281.6,439.7L277.9,441.7L274.1,441.1ZM228.2,497.2L229.9,494.9L232.4,493.8L232.8,495.1L235.8,494.3L239.1,495.1L241.7,495.5L244.2,498.1L247.6,499.3L250.1,500.2L250.9,503.6L253.5,504.8L256.0,506.1L259.4,506.5L261.9,508.2L263.6,509.9L262.7,512.4L260.6,515.0L260.2,518.4L258.5,522.8L256.0,523.7L252.6,525.9L252.0,528.6L249.2,532.3L246.7,534.7L244.6,536.1L243.8,533.7L244.6,537.6L240.8,538.6L238.3,540.6L239.6,542.1L237.9,544.6L236.2,546.2L237.5,547.8L234.9,551.1L235.4,552.8L235.8,554.5L237.9,555.6L234.1,556.2L230.7,553.3L229.5,548.9L230.7,543.6L231.6,539.6L231.1,536.6L232.8,531.9L233.3,527.3L233.8,521.0L233.3,519.3L229.9,517.1L228.2,514.1L226.5,511.2L224.8,509.0L224.8,507.4L225.7,506.1L225.3,504.8L225.7,503.1L226.9,501.9L227.8,500.6L227.8,498.1ZM278.7,491.5L279.1,487.8L278.7,486.0L280.8,481.6L283.8,479.3L285.0,477.0L288.0,472.8L291.3,473.1L295.6,471.5L301.4,471.2L302.3,474.2L305.7,475.8L309.9,475.3L311.5,475.6L314.1,476.4L317.4,477.1L320.0,476.7L320.4,478.0L322.9,483.4L324.2,486.0L325.4,488.7L326.7,491.3L329.2,493.4L330.1,495.1L336.0,494.0L335.5,496.4L333.4,500.2L330.1,503.1L328.0,505.5L326.3,508.2L326.3,511.6L327.1,514.1L327.1,516.7L324.2,519.3L322.5,521.0L322.9,524.6L320.8,526.4L320.4,529.1L318.3,531.4L315.8,533.6L311.5,534.0L308.6,533.9L308.2,531.9L306.1,527.3L305.2,522.8L303.1,519.3L303.5,515.0L304.4,511.6L303.1,508.2L300.6,504.8L301.0,501.0L298.9,500.3L296.8,498.7L293.9,498.9L290.5,499.8L286.7,500.3L284.2,498.5L282.1,496.8L280.4,494.7ZM334.5,514.1L335.4,517.1L334.3,520.2L333.0,525.0L330.9,525.9L329.6,523.2L330.3,520.2L330.5,517.8L333.0,516.3ZM285.4,471.3L285.2,469.4L285.6,465.2L291.3,464.9L292.0,462.3L289.2,459.8L291.8,459.4L294.3,457.1L296.4,455.8L297.2,454.3L300.2,453.7L299.9,450.5L301.9,449.3L301.9,451.7L303.5,453.1L305.0,453.6L308.6,452.7L310.7,452.3L310.7,449.9L313.2,449.3L312.8,447.3L316.6,446.9L318.3,446.3L314.1,446.0L311.5,445.6L311.1,442.4L314.1,439.7L311.5,438.6L310.7,441.1L307.8,443.7L307.3,445.6L308.9,446.5L306.9,449.9L305.1,451.5L303.8,451.4L302.5,447.5L299.8,448.6L297.7,447.5L297.2,443.7L301.4,440.4L304.8,435.5L309.0,432.5L314.5,431.0L318.3,432.5L320.8,433.6L327.5,436.2L326.7,438.3L322.5,437.6L322.1,439.7L325.0,441.1L327.1,440.0L330.1,438.0L330.5,435.0L338.5,434.8L343.5,434.0L349.0,434.8L350.3,430.2L354.5,430.2L354.5,435.5L356.2,429.5L360.4,427.9L366.3,426.2L366.3,423.7L375.5,422.4L381.0,419.9L388.2,426.2L385.6,426.6L392.4,427.5L399.9,428.7L402.5,431.0L410.9,428.2L419.3,429.8L427.7,432.8L436.1,432.8L442.9,434.0L444.6,434.5L448.8,436.6L453.0,438.3L450.5,440.4L445.4,439.3L443.7,443.0L440.3,443.7L436.1,446.3L430.7,448.7L430.2,451.1L427.7,454.6L424.9,456.9L423.9,451.1L425.2,448.7L430.2,444.3L427.7,445.0L424.4,446.9L419.3,446.9L413.4,447.1L409.2,452.3L411.7,454.6L411.3,459.1L407.5,463.8L404.1,465.4L402.0,467.4L400.4,468.6L401.9,472.3L399.9,473.6L399.4,471.3L398.3,468.9L395.7,467.9L395.3,469.4L392.4,469.2L393.2,471.1L396.2,471.3L394.0,473.3L395.6,476.6L395.3,479.3L393.2,482.0L391.1,484.3L388.2,485.2L385.6,486.0L383.9,485.6L382.3,487.4L384.4,490.4L385.0,493.4L382.7,495.5L381.4,496.6L381.0,495.1L378.9,493.4L377.6,492.5L376.8,495.1L378.5,498.5L380.2,500.6L380.6,502.7L378.5,501.7L377.5,498.9L375.9,496.8L375.9,493.8L375.1,490.0L372.6,490.4L372.2,487.8L370.1,484.7L367.9,485.2L366.3,486.0L364.6,487.4L360.6,490.8L360.4,493.8L358.7,497.1L357.4,496.4L355.7,492.1L354.5,488.7L354.2,486.0L352.0,486.0L350.7,483.8L349.0,482.2L344.8,482.3L341.0,481.9L340.6,480.7L336.4,480.0L335.1,478.0L333.4,478.0L335.1,481.1L336.4,482.9L338.5,483.2L340.4,481.4L340.6,482.9L342.4,483.8L343.4,484.9L341.4,488.0L339.3,489.5L336.8,490.8L333.4,492.1L330.9,493.2L329.5,493.1L329.0,490.4L327.1,487.4L325.9,485.6L324.2,482.5L322.5,479.8L322.3,478.4L321.9,476.7L323.2,473.7L323.3,471.8L320.8,472.2L318.7,472.0L316.2,471.5L315.3,469.9L315.2,468.4L314.9,467.6L313.2,467.9L312.2,468.1L312.8,470.4L312.0,471.8L311.0,470.9L309.4,467.9L309.3,466.4L306.5,464.9L304.6,462.7L303.4,463.0L304.5,464.9L306.5,466.6L308.5,468.2L307.3,467.9L306.9,469.9L306.2,470.4L306.5,468.4L304.8,467.4L303.4,466.6L301.9,465.4L300.4,463.9L299.3,464.6L295.8,465.2L295.7,466.6L293.3,468.4L292.6,469.9L291.3,471.5L288.6,472.2L287.6,471.5ZM288.4,458.0L294.1,456.7L294.5,455.0L293.0,454.1L291.8,452.3L291.3,449.3L290.1,448.0L288.4,448.1L288.0,450.5L289.0,452.5L290.5,453.5L289.2,454.4L289.2,455.8L288.6,456.1L290.1,456.4ZM284.6,455.8L287.8,455.5L288.0,453.5L286.7,452.0L284.6,453.2ZM402.9,476.7L404.0,474.7L406.7,474.7L408.4,473.6L410.9,473.3L411.7,470.4L412.4,467.9L410.9,466.9L410.6,469.9L408.2,471.3L405.0,472.8L403.2,474.0L402.3,475.2ZM410.9,466.4L413.4,466.4L415.5,465.1L412.6,462.8L412.1,465.2ZM412.6,462.3L413.8,459.1L413.4,454.6L413.0,453.1L412.6,458.0L412.6,460.2ZM394.9,485.2L395.7,482.5L394.3,483.8ZM360.4,495.7L361.9,497.7L360.8,498.9L360.1,497.2ZM373.3,499.3L375.5,500.6L380.2,504.8L382.3,506.5L382.1,508.9L381.0,508.9L378.1,506.1L375.5,502.7ZM381.8,509.5L384.4,509.5L386.5,509.5L389.4,510.3L389.4,511.3L383.9,510.6L381.8,509.8ZM384.8,502.7L386.5,502.5L388.2,501.5L389.8,499.8L391.5,498.1L393.2,499.8L392.4,502.3L391.9,504.0L391.1,505.7L390.7,507.4L389.0,506.9L386.9,506.5L385.6,505.2L384.8,503.7ZM393.6,503.6L394.9,503.0L398.3,502.7L396.6,503.7L394.5,504.0L395.3,504.8L396.8,504.8L395.5,505.7L396.2,507.8L394.9,506.5L394.3,508.7L393.6,508.6L393.2,506.5ZM403.3,504.7L405.8,504.7L406.7,506.8L409.2,505.3L411.7,506.2L415.1,507.8L417.2,509.0L416.8,509.9L419.7,512.9L416.8,512.3L414.3,510.5L413.0,511.7L410.0,510.7L409.2,509.9L409.2,508.6L406.7,507.7L404.6,506.5L404.1,505.7ZM394.5,488.2L395.9,488.2L395.7,490.4L395.3,491.9L397.4,493.0L397.2,493.4L394.7,492.3L394.0,490.4ZM395.7,498.1L397.0,496.8L398.7,495.8L399.5,497.2L399.1,498.8L398.5,499.1L397.4,498.1ZM389.0,522.8L389.0,526.4L390.3,531.4L389.8,534.0L392.4,534.7L397.0,533.6L399.1,532.1L401.6,531.5L403.7,531.4L405.8,532.6L407.1,534.5L408.8,532.8L409.2,535.2L410.9,537.1L413.8,538.4L416.2,538.6L419.3,537.1L420.4,533.3L421.8,530.9L422.2,528.2L421.8,525.5L420.0,523.2L418.5,521.3L416.2,520.2L415.5,516.7L413.8,516.0L413.0,513.1L412.2,515.0L412.1,517.6L410.5,518.9L408.8,517.6L407.1,516.7L408.2,514.4L406.7,514.1L404.6,513.4L402.9,514.6L402.0,516.7L400.4,515.8L398.3,516.7L397.0,518.7L395.7,519.3L394.9,520.7L391.5,521.6ZM414.8,540.3L417.9,540.5L417.6,542.6L416.4,543.2L415.3,542.1ZM438.4,534.2L439.9,536.1L441.2,537.2L443.1,537.3L442.0,539.1L440.6,541.1L440.2,539.4L439.3,538.9L440.1,537.1ZM438.4,540.2L439.7,541.4L438.5,543.1L437.0,544.1L436.6,545.7L434.9,546.3L433.2,545.7L434.5,543.9L436.6,542.6ZM336.4,430.2L339.3,431.5L341.4,431.0L339.7,427.9L343.5,423.7L350.3,421.5L348.6,421.1L341.9,422.9L339.3,425.4L336.8,428.7ZM302.3,417.5L305.7,421.5L309.0,419.3L311.5,419.0L315.8,415.6L309.9,414.6L304.8,415.6ZM373.0,417.5L377.2,419.0L381.4,417.5L377.2,413.6L373.8,413.6ZM408.4,424.6L414.3,424.6L419.3,424.1L413.4,422.9L409.2,422.9ZM332.6,414.6L339.3,415.6L345.2,414.0L339.3,412.7ZM300.0,469.4L301.1,469.2L301.0,467.4L300.0,467.6ZM303.5,470.4L306.1,470.2L305.7,471.6L303.7,470.9ZM312.8,473.0L315.1,473.1L314.9,473.4L312.9,473.2ZM320.2,473.5L322.1,472.7L321.5,473.6Z" fill="#000" stroke="#000" stroke-width=".5" stroke-linejoin="round"/><path d="M332.6,463.3L334.7,461.8L337.6,461.8L338.1,463.3L336.4,463.3L335.5,463.8L337.2,466.4L337.6,468.4L338.5,469.4L338.5,471.3L336.0,471.6L334.3,470.9L334.3,468.4L333.0,465.4ZM316.6,466.9L317.0,464.4L318.7,462.0L320.8,462.5L322.5,463.3L324.2,463.1L325.0,461.4L325.9,461.2L325.0,463.3L328.0,465.9L327.5,467.2L323.3,466.9L320.0,466.6L317.9,467.2Z" fill="#fff"/><path d="M174.3,446.3L174.3,433.1M189.5,459.1L213.0,459.1L218.1,460.2L223.2,462.3L224.0,465.9L226.5,465.1L229.9,463.3L233.3,463.3L236.2,461.2M194.5,475.6L199.6,476.7L202.1,476.6L203.4,476.3L206.3,478.9L209.3,480.2L211.1,481.6M215.6,489.1L216.8,490.4L218.1,490.8M231.6,494.7L232.0,497.2L234.1,498.9L236.2,498.9L236.6,502.3L234.1,503.1L234.1,507.5M242.5,497.2L241.7,499.8L239.1,500.6L239.1,502.7L236.6,502.3M244.2,498.9L245.0,502.3L247.6,502.0L249.2,500.6M225.7,507.4L227.4,506.5L229.5,504.1L231.6,505.9L234.1,507.5L231.6,510.3L233.7,513.3L234.9,514.6L234.5,518.9M234.5,518.9L235.8,520.2L236.6,523.7L235.4,527.3L234.1,530.9L234.1,535.7L232.8,540.6L232.4,546.7L232.0,551.1M234.9,514.6L238.3,512.4L241.7,515.4L244.2,518.4L244.2,521.0L240.8,522.8L236.6,523.7M244.2,521.0L246.7,524.6L247.1,527.3L245.9,528.6L244.6,530.2L244.2,533.3M244.6,530.2L248.0,533.5M282.1,480.1L285.7,480.1L285.7,478.9L291.3,476.1L291.8,473.3M285.7,480.4L289.0,482.5L293.9,486.0L295.6,487.8L296.4,487.4L303.1,483.8L301.4,478.0L299.8,475.2L300.2,471.3M303.1,483.8L305.7,484.3L313.2,487.4L313.2,486.9L314.1,486.9L314.1,476.6M314.1,485.2L319.5,485.2L324.2,485.2M282.9,491.3L283.3,493.5L286.3,495.5L288.4,495.1L290.5,495.5L293.0,494.7L296.0,494.1L296.4,492.5L304.4,492.5L306.1,484.3M288.4,495.1L288.4,490.8L296.4,487.4M304.8,493.0L305.2,495.5L306.1,497.7L305.2,500.2L304.0,502.1L306.5,502.3L308.6,501.0L312.0,500.2L316.2,499.8L319.1,500.9L321.6,500.4L323.3,500.2L327.5,500.6L328.4,503.1L327.5,505.2M313.2,487.4L313.2,490.7L312.0,493.4L312.4,495.5L316.2,499.8M321.6,500.4L321.6,504.8L318.7,505.0L317.9,507.8L318.7,510.9L320.8,512.0L322.1,513.7L324.2,513.8L327.0,512.9M303.5,509.0L307.3,510.7L311.5,509.9L311.5,513.3L313.2,515.0L317.0,514.6L318.7,510.9M303.1,518.7L308.6,518.9L313.2,518.9L314.3,519.1L315.8,519.3L317.9,523.0L319.4,523.2L320.0,525.9M309.9,519.3L309.9,525.5L309.9,528.6L307.3,528.6L306.9,528.7M309.9,525.5L312.4,525.9L314.9,525.2L317.9,523.0M325.0,488.7L323.8,491.7L323.3,493.8L321.6,496.0L320.8,497.4L321.6,500.4M329.2,494.3L328.4,495.5L330.9,497.2L333.4,497.2L330.9,499.8L328.4,500.6M291.5,465.1L295.7,466.0M295.1,456.9L298.1,457.8L299.9,459.1L299.4,460.6L301.4,460.9L304.0,460.7L305.7,459.1L303.3,457.7L305.5,456.9L305.1,453.6M298.1,457.8L298.9,454.3M299.4,460.6L298.1,462.1L298.9,464.4M304.6,461.8L306.9,461.8L309.0,462.4L312.0,460.2L313.2,460.2L315.3,459.8L316.8,462.8L317.9,463.0M305.5,456.9L309.0,458.5L312.0,459.1L313.2,457.4L312.8,453.7L310.7,452.3M312.8,453.7L315.3,451.7L316.6,450.9L316.2,449.3L316.6,446.9M313.2,457.4L318.7,456.4L321.6,455.4L323.3,457.7L326.7,458.4L325.3,461.0M316.6,450.9L319.1,452.3L320.6,454.2L319.1,455.8L318.7,456.4M303.1,451.1L303.3,446.9L303.1,445.0L303.6,441.1L305.7,438.0L308.2,434.8L310.3,434.0L314.5,434.0L317.0,432.5L317.9,433.3L318.3,435.9L317.4,438.3L318.3,441.7L319.5,442.6L316.6,445.6M310.3,434.0L312.8,435.6L313.2,438.6M309.4,466.5L310.7,467.4L312.4,467.1L315.2,466.7L316.6,466.4M312.0,463.8L312.0,466.1L315.3,464.6L317.0,464.7M309.0,462.4L309.4,463.8L309.4,466.5M323.3,471.5L325.4,471.5L328.7,471.2L330.7,471.2L330.5,468.7L329.6,467.3L328.0,466.9M330.7,471.2L331.7,472.8L331.3,474.2L333.4,478.0M323.1,475.4L325.9,475.9L326.0,475.8L328.4,477.0L330.7,478.7L333.0,478.9L333.3,478.0M322.4,478.4L323.8,478.4L325.0,477.5L326.0,475.8M325.4,471.5L327.5,473.8L325.9,475.9M336.8,487.8L339.3,486.9L339.8,485.2L337.2,484.4L336.5,483.1M336.8,487.8L337.6,489.8M339.3,486.9L341.4,488.0M330.5,468.7L332.2,469.5L333.9,469.9L334.3,470.9M338.5,471.1L341.0,470.2L344.0,471.7L344.5,472.7L344.4,476.6L345.1,477.0L344.3,478.1L346.1,480.5L344.8,482.3M344.3,478.1L348.8,478.1L352.0,474.7L352.8,472.3L355.7,471.3L353.2,471.3L352.0,470.8L349.0,471.1L347.3,471.8L344.5,472.7M348.8,478.1L348.8,482.0M355.7,471.3L358.5,472.8L355.3,475.2L355.7,477.0L352.8,479.8L352.0,482.0L350.4,483.7M358.5,472.8L359.5,475.6L361.2,477.8L363.7,479.1L367.2,480.0L367.8,480.5L370.5,480.8L370.6,480.0L374.9,479.6M361.2,477.8L360.5,479.1L363.7,480.3L367.1,481.2L367.2,480.0M367.1,481.2L367.8,483.1L367.9,485.2M370.7,486.3L370.9,482.9L368.8,482.3L367.8,481.4M370.7,486.3L372.2,483.5L374.7,480.1L376.1,480.2L375.5,483.4L376.6,485.2L378.2,485.6L377.3,486.7M375.5,490.4L376.3,488.2L375.4,488.5L377.3,486.7L378.2,485.6M378.2,485.6L379.1,484.7L381.7,484.0L383.5,485.5L383.9,485.6M378.1,489.1L379.3,488.7L381.2,490.0L381.9,492.0L383.5,491.7L383.5,493.6L382.1,494.4L381.0,495.1M381.9,492.0L379.6,491.9L379.3,493.7M381.2,490.0L383.5,490.4L383.5,491.7M377.3,498.6L378.1,499.2L379.0,498.8M332.2,463.7L332.8,459.9L332.3,457.4L335.8,456.1L339.3,457.1L343.5,456.9L344.8,453.7L350.7,452.3L352.8,453.2L357.7,453.1L360.4,457.0L363.3,456.9L366.5,458.9M366.5,458.9L365.0,461.0L362.5,462.8L360.4,466.2L355.3,468.1L355.0,468.9L355.7,471.3M337.2,466.7L340.2,467.1L340.2,463.3L342.3,462.8L344.8,464.4L348.6,465.4L350.3,467.4L352.8,466.1L354.9,466.9L355.3,468.1M338.5,471.1L337.6,468.9L337.2,466.7M340.2,467.1L342.7,465.9L345.2,467.2L349.0,471.1M350.3,467.4L349.8,469.1L352.0,470.8M366.5,458.9L369.6,457.4L375.5,458.0L376.3,455.6L379.1,457.4L382.9,457.7L388.2,458.2L391.3,458.2L393.9,461.2L390.3,460.5L390.7,462.3L387.1,463.3L386.7,464.9L381.0,466.6L377.2,465.8L374.1,465.7L369.5,463.1L366.9,459.2M391.3,458.2L394.0,454.3L398.9,454.6L400.4,458.2L403.1,460.4L406.4,459.8L405.0,463.3L403.5,465.4L403.0,465.9M397.7,468.4L399.8,466.7L401.0,466.9L403.0,465.9M399.3,470.6L401.0,469.8M411.7,506.2L411.7,511.7M385.2,502.4L386.0,503.2L387.5,502.7L389.7,502.3L390.3,500.4L392.0,500.4" fill="none" stroke="#fff" stroke-opacity=".3" stroke-width=".45" stroke-linejoin="round"/></svg>
<div style="left:156px;top:406.5px;width:12px;height:10.5px;border:1px solid #ededed;background:#fbfbfb;border-radius:1px"></div>
<div class="t" style="left:156.00px;top:407.10px;width:12px;line-height:9px;font-size:6.5px;color:#e2e2e2;font-weight:400;text-align:center;">+</div>
<div style="left:156px;top:417.5px;width:12px;height:10.5px;border:1px solid #ededed;background:#fbfbfb;border-radius:1px"></div>
<div class="t" style="left:156.00px;top:418.00px;width:12px;line-height:9px;font-size:6.5px;color:#e2e2e2;font-weight:400;text-align:center;">&#8722;</div>
<div class="p" style="left:475px;top:376px;width:150px;height:251.5px;"></div>
<svg class="i" style="left:0;top:0" width="800" height="640" viewBox="0 0 800 640"><g transform="translate(521.8,389.2)"><path d="M9.5 0C4.200 0 0 4.200 0 9.500 0 16 6.600 21.500 9.500 29.400 12.400 21.500 19 16 19 9.500 19 4.200 14.800 0 9.500 0z" fill="#e2483d"/><circle cx="9.500" cy="9.600" r="3.800" fill="#fff"/></g><path d="M559.00,442.50C551.50,443.00 547.50,451.00 554.50,456.00C559.50,459.50 567.00,457.00 567.50,450.50C562.50,452.00 558.00,448.50 559.00,442.50Z" fill="none" stroke="#6f7b3c" stroke-width="3.00" stroke-linejoin="round"/><path d="M536.07,470.53A11.50,11.50 0 1 1 553.27,456.96A8.60,8.60 0 0 1 561.30,472.16" fill="#fff" stroke="#fff" stroke-width="5.65" stroke-linecap="round"/><path d="M536.07,470.53A11.50,11.50 0 1 1 553.27,456.96A8.60,8.60 0 0 1 561.30,472.16" fill="none" stroke="#6f7b3c" stroke-width="3.25" stroke-linecap="round" stroke-linejoin="round"/><path d="M548.00,467.60L548.00,479.40" stroke="#6f7b3c" stroke-width="2.40" stroke-linecap="round"/><path d="M553.11,470.55L542.89,476.45" stroke="#6f7b3c" stroke-width="2.40" stroke-linecap="round"/><path d="M553.11,476.45L542.89,470.55" stroke="#6f7b3c" stroke-width="2.40" stroke-linecap="round"/><circle cx="548.00" cy="473.50" r="3.10" fill="#6f7b3c"/><circle cx="548.00" cy="473.50" r="1.40" fill="#fff"/><circle cx="500.36" cy="556.75" r="4.25" fill="none" stroke="#6f7b3c" stroke-width="1.91"/><path d="M495.19,551.58L493.40,549.79" stroke="#6f7b3c" stroke-width="1.62" stroke-linecap="round"/><path d="M500.36,549.45L500.36,546.91" stroke="#6f7b3c" stroke-width="1.62" stroke-linecap="round"/><path d="M505.52,551.58L507.32,549.79" stroke="#6f7b3c" stroke-width="1.62" stroke-linecap="round"/><path d="M507.66,556.75L510.20,556.75" stroke="#6f7b3c" stroke-width="1.62" stroke-linecap="round"/><path d="M488.72,568.45A7.30,7.30 0 1 1 499.64,559.83A5.46,5.46 0 0 1 504.74,569.49" fill="#fff" stroke="#fff" stroke-width="3.59" stroke-linecap="round"/><path d="M488.72,568.45A7.30,7.30 0 1 1 499.64,559.83A5.46,5.46 0 0 1 504.74,569.49" fill="none" stroke="#6f7b3c" stroke-width="2.06" stroke-linecap="round" stroke-linejoin="round"/><path d="M497.25,562.72L491.21,569.89L495.02,569.89L492.80,575.74L500.10,567.48L496.48,567.48L499.15,562.72Z" fill="#6f7b3c" stroke="#fff" stroke-width="0.76" paint-order="stroke"/><path d="M554.24,552.69C549.86,552.98 547.52,557.66 551.61,560.58C554.53,562.62 558.91,561.16 559.21,557.37C556.28,558.24 553.66,556.20 554.24,552.69Z" fill="none" stroke="#6f7b3c" stroke-width="1.75" stroke-linejoin="round"/><path d="M540.84,569.07A6.72,6.72 0 1 1 550.89,561.14A5.02,5.02 0 0 1 555.59,570.02" fill="#fff" stroke="#fff" stroke-width="3.30" stroke-linecap="round"/><path d="M540.84,569.07A6.72,6.72 0 1 1 550.89,561.14A5.02,5.02 0 0 1 555.59,570.02" fill="none" stroke="#6f7b3c" stroke-width="1.90" stroke-linecap="round" stroke-linejoin="round"/><path d="M547.81,567.36L547.81,574.25" stroke="#6f7b3c" stroke-width="1.40" stroke-linecap="round"/><path d="M550.80,569.08L544.83,572.53" stroke="#6f7b3c" stroke-width="1.40" stroke-linecap="round"/><path d="M550.80,572.53L544.83,569.08" stroke="#6f7b3c" stroke-width="1.40" stroke-linecap="round"/><circle cx="547.81" cy="570.80" r="1.81" fill="#6f7b3c"/><circle cx="547.81" cy="570.80" r="0.82" fill="#fff"/><circle cx="604.06" cy="556.75" r="4.25" fill="none" stroke="#6f7b3c" stroke-width="1.91"/><path d="M598.89,551.58L597.10,549.79" stroke="#6f7b3c" stroke-width="1.62" stroke-linecap="round"/><path d="M604.06,549.45L604.06,546.91" stroke="#6f7b3c" stroke-width="1.62" stroke-linecap="round"/><path d="M609.22,551.58L611.02,549.79" stroke="#6f7b3c" stroke-width="1.62" stroke-linecap="round"/><path d="M611.36,556.75L613.90,556.75" stroke="#6f7b3c" stroke-width="1.62" stroke-linecap="round"/><path d="M592.42,568.45A7.30,7.30 0 1 1 603.34,559.83A5.46,5.46 0 0 1 608.44,569.49" fill="#fff" stroke="#fff" stroke-width="3.59" stroke-linecap="round"/><path d="M592.42,568.45A7.30,7.30 0 1 1 603.34,559.83A5.46,5.46 0 0 1 608.44,569.49" fill="none" stroke="#6f7b3c" stroke-width="2.06" stroke-linecap="round" stroke-linejoin="round"/><path d="M596.50,563.03V573.83" stroke="#6f7b3c" stroke-width="1.27"/><path d="M600.18,563.03V573.83" stroke="#6f7b3c" stroke-width="1.27"/><path d="M603.87,563.03V573.83" stroke="#6f7b3c" stroke-width="1.27"/><circle cx="588.88" cy="573.19" r="0.76" fill="#6f7b3c"/><circle cx="593.33" cy="575.10" r="0.76" fill="#6f7b3c"/><circle cx="598.40" cy="576.05" r="0.76" fill="#6f7b3c"/><circle cx="602.02" cy="576.05" r="0.76" fill="#6f7b3c"/><circle cx="606.02" cy="575.10" r="0.76" fill="#6f7b3c"/><circle cx="610.47" cy="572.56" r="0.76" fill="#6f7b3c"/></svg>
<div class="t" style="left:543.70px;top:404.80px;width:70px;line-height:15px;font-size:10.6px;color:#4b7f9a;font-weight:700;text-align:left;letter-spacing:-.2px;">Nevada</div>
<div class="t" style="left:480.50px;top:507.30px;width:50px;line-height:12px;font-size:8.3px;color:#666;font-weight:400;text-align:right;letter-spacing:-.1px;">Thursday</div>
<div class="t" style="left:480.50px;top:518.30px;width:50px;line-height:8px;font-size:5.8px;color:#e3e3e3;font-weight:400;text-align:right;letter-spacing:.2px;">JUL 10</div>
<div class="t" style="left:545.00px;top:503.80px;width:50px;line-height:20px;font-size:14.2px;color:#555;font-weight:400;text-align:left;letter-spacing:-.2px;">15&deg;C</div>
<div style="left:476px;top:535px;width:148px;height:1px;background:#ececec"></div>
<div style="left:488.0px;top:592.2px;width:19px;height:9px;background:#27a9e0;border-radius:.8px"></div>
<div class="t" style="left:488.00px;top:593.90px;width:19px;line-height:6px;font-size:4.5px;color:#fff;font-weight:700;text-align:center;">MON</div>
<div class="t" style="left:477.50px;top:605.50px;width:40px;line-height:11px;font-size:7.9px;color:#666;font-weight:400;text-align:center;">40&deg;C</div>
<div style="left:540.5px;top:592.2px;width:19px;height:9px;background:#27a9e0;border-radius:.8px"></div>
<div class="t" style="left:540.50px;top:593.90px;width:19px;line-height:6px;font-size:4.5px;color:#fff;font-weight:700;text-align:center;">TUE</div>
<div class="t" style="left:530.00px;top:605.50px;width:40px;line-height:11px;font-size:7.9px;color:#666;font-weight:400;text-align:center;">18&deg;C</div>
<div style="left:592.0px;top:592.2px;width:19px;height:9px;background:#27a9e0;border-radius:.8px"></div>
<div class="t" style="left:592.00px;top:593.90px;width:19px;line-height:6px;font-size:4.5px;color:#fff;font-weight:700;text-align:center;">WED</div>
<div class="t" style="left:581.50px;top:605.50px;width:40px;line-height:11px;font-size:7.9px;color:#666;font-weight:400;text-align:center;">25&deg;C</div>
<div class="p" style="left:640px;top:376px;width:150px;height:251.5px;"></div>
<svg class="i" style="left:0;top:0" width="800" height="640" viewBox="0 0 800 640"><g transform="translate(681.3,389.2)"><path d="M9.5 0C4.200 0 0 4.200 0 9.500 0 16 6.600 21.500 9.500 29.400 12.400 21.500 19 16 19 9.500 19 4.200 14.800 0 9.500 0z" fill="#e2483d"/><circle cx="9.500" cy="9.600" r="3.800" fill="#fff"/></g><path d="M704.07,470.53A11.50,11.50 0 1 1 721.27,456.96A8.60,8.60 0 0 1 729.30,472.16" fill="none" stroke="#6f7b3c" stroke-width="3.25" stroke-linecap="round" stroke-linejoin="round"/><path d="M708.00,466.00V470.50" stroke="#6f7b3c" stroke-width="2.50"/><path d="M708.00,476.50V481.00" stroke="#6f7b3c" stroke-width="2.50"/><path d="M715.00,469.50V474.00" stroke="#6f7b3c" stroke-width="2.50"/><path d="M715.00,480.00V484.50" stroke="#6f7b3c" stroke-width="2.50"/><path d="M722.50,466.00V470.50" stroke="#6f7b3c" stroke-width="2.50"/><path d="M722.50,476.50V481.00" stroke="#6f7b3c" stroke-width="2.50"/><circle cx="665.36" cy="556.75" r="4.25" fill="none" stroke="#6f7b3c" stroke-width="1.91"/><path d="M660.19,551.58L658.40,549.79" stroke="#6f7b3c" stroke-width="1.62" stroke-linecap="round"/><path d="M665.36,549.45L665.36,546.91" stroke="#6f7b3c" stroke-width="1.62" stroke-linecap="round"/><path d="M670.52,551.58L672.32,549.79" stroke="#6f7b3c" stroke-width="1.62" stroke-linecap="round"/><path d="M672.66,556.75L675.20,556.75" stroke="#6f7b3c" stroke-width="1.62" stroke-linecap="round"/><path d="M653.72,568.45A7.30,7.30 0 1 1 664.64,559.83A5.46,5.46 0 0 1 669.74,569.49" fill="#fff" stroke="#fff" stroke-width="3.59" stroke-linecap="round"/><path d="M653.72,568.45A7.30,7.30 0 1 1 664.64,559.83A5.46,5.46 0 0 1 669.74,569.49" fill="none" stroke="#6f7b3c" stroke-width="2.06" stroke-linecap="round" stroke-linejoin="round"/><path d="M662.25,562.72L656.21,569.89L660.02,569.89L657.80,575.74L665.10,567.48L661.48,567.48L664.15,562.72Z" fill="#6f7b3c" stroke="#fff" stroke-width="0.76" paint-order="stroke"/><circle cx="715.04" cy="559.99" r="4.76" fill="none" stroke="#6f7b3c" stroke-width="1.91"/><path d="M709.88,554.83L708.08,553.03" stroke="#6f7b3c" stroke-width="1.62" stroke-linecap="round"/><path d="M715.04,552.69L715.04,550.15" stroke="#6f7b3c" stroke-width="1.62" stroke-linecap="round"/><path d="M720.20,554.83L722.00,553.03" stroke="#6f7b3c" stroke-width="1.62" stroke-linecap="round"/><path d="M722.34,559.99L724.88,559.99" stroke="#6f7b3c" stroke-width="1.62" stroke-linecap="round"/><rect x="703.61" y="561.58" width="19.05" height="5.08" fill="#fff"/><path d="M705.20,562.53a5.71,5.71 0 0 1 7.62,-3.49" fill="none" stroke="#6f7b3c" stroke-width="1.91" stroke-linecap="round"/><path d="M703.93,565.39h17.14" stroke="#6f7b3c" stroke-width="1.78" stroke-linecap="round"/><path d="M703.93,569.71h17.14" stroke="#6f7b3c" stroke-width="1.78" stroke-linecap="round"/><path d="M703.93,574.02h17.14" stroke="#6f7b3c" stroke-width="1.78" stroke-linecap="round"/><path d="M759.00,569.23A7.16,7.16 0 1 1 769.70,560.78A5.35,5.35 0 0 1 774.70,570.25" fill="none" stroke="#6f7b3c" stroke-width="2.02" stroke-linecap="round" stroke-linejoin="round"/><path d="M762.07,567.03V569.21" stroke="#6f7b3c" stroke-width="1.62"/><path d="M762.07,571.39V573.57" stroke="#6f7b3c" stroke-width="1.62"/><path d="M766.11,569.21V571.39" stroke="#6f7b3c" stroke-width="1.62"/><path d="M766.11,573.57V575.75" stroke="#6f7b3c" stroke-width="1.62"/><path d="M770.16,567.03V569.21" stroke="#6f7b3c" stroke-width="1.62"/><path d="M770.16,571.39V573.57" stroke="#6f7b3c" stroke-width="1.62"/></svg>
<div class="t" style="left:703.70px;top:404.80px;width:70px;line-height:15px;font-size:10.6px;color:#4b7f9a;font-weight:700;text-align:left;letter-spacing:-.2px;">California</div>
<div class="t" style="left:645.50px;top:507.30px;width:50px;line-height:12px;font-size:8.3px;color:#666;font-weight:400;text-align:right;letter-spacing:-.1px;">Thursday</div>
<div class="t" style="left:645.50px;top:518.30px;width:50px;line-height:8px;font-size:5.8px;color:#e3e3e3;font-weight:400;text-align:right;letter-spacing:.2px;">JUL 10</div>
<div class="t" style="left:710.00px;top:503.80px;width:50px;line-height:20px;font-size:14.2px;color:#555;font-weight:400;text-align:left;letter-spacing:-.2px;">18&deg;C</div>
<div style="left:641px;top:535px;width:148px;height:1px;background:#ececec"></div>
<div style="left:653.0px;top:592.2px;width:19px;height:9px;background:#27a9e0;border-radius:.8px"></div>
<div class="t" style="left:653.00px;top:593.90px;width:19px;line-height:6px;font-size:4.5px;color:#fff;font-weight:700;text-align:center;">MON</div>
<div class="t" style="left:642.50px;top:605.50px;width:40px;line-height:11px;font-size:7.9px;color:#666;font-weight:400;text-align:center;">35&deg;C</div>
<div style="left:705.5px;top:592.2px;width:19px;height:9px;background:#27a9e0;border-radius:.8px"></div>
<div class="t" style="left:705.50px;top:593.90px;width:19px;line-height:6px;font-size:4.5px;color:#fff;font-weight:700;text-align:center;">TUE</div>
<div class="t" style="left:695.00px;top:605.50px;width:40px;line-height:11px;font-size:7.9px;color:#666;font-weight:400;text-align:center;">28&deg;C</div>
<div style="left:757.0px;top:592.2px;width:19px;height:9px;background:#27a9e0;border-radius:.8px"></div>
<div class="t" style="left:757.00px;top:593.90px;width:19px;line-height:6px;font-size:4.5px;color:#fff;font-weight:700;text-align:center;">WED</div>
<div class="t" style="left:746.50px;top:605.50px;width:40px;line-height:11px;font-size:7.9px;color:#666;font-weight:400;text-align:center;">17&deg;C</div>
<div class="p" style="left:145px;top:586.5px;width:315px;height:186px;"></div>
<div class="ph" style="left:145px;top:586.5px;width:315px;height:19.5px;"></div>
<svg class="i" style="left:153.0px;top:592.75px;" width="8" height="7" viewBox="0 0 10 9"><path d="M1 .500v8.500" stroke="#e0574c" stroke-width="1.100"/><path d="M1.500 1.300c2-.900 3.500.800 7 0v4.500c-3.500.800-5-.900-7 0z" fill="none" stroke="#e0574c" stroke-width="1"/></svg>
<div class="t" style="left:171.00px;top:590.85px;width:300px;line-height:11px;font-size:7.8px;color:#333;font-weight:700;text-align:left;letter-spacing:.24px;">Registered Users</div>
<div style="left:400px;top:586.5px;width:1px;height:18.5px;background:#ededed"></div>
<svg class="i" style="left:406.7px;top:592.45px;" width="7.6" height="7.6" viewBox="0 0 10 10"><path d="M8.200 6.200A3.500 3.500 0 1 1 7.500 2.500" fill="none" stroke="#333" stroke-width="1.500"/><path d="M9.300.600v3.300H6z" fill="#333"/></svg>
<div style="left:420px;top:586.5px;width:1px;height:18.5px;background:#ededed"></div>
<svg class="i" style="left:426.7px;top:593.4px;" width="7.6" height="5.7" viewBox="0 0 8 6"><path d="M.9 4.6L4 1.5l3.1 3.100" fill="none" stroke="#333" stroke-width="1.35"/></svg>
<div style="left:440px;top:586.5px;width:1px;height:18.5px;background:#ededed"></div>
<svg class="i" style="left:447.5px;top:593.25px;" width="6" height="6" viewBox="0 0 8 8"><path d="M1.300 1.300l5.400 5.400M6.700 1.300L1.300 6.700" stroke="#333" stroke-width="1.900"/></svg>
<div class="t" style="left:181.90px;top:621.00px;width:300px;line-height:10px;font-size:6.9px;color:#444;font-weight:700;text-align:left;letter-spacing:.6px;">Country</div>
<div class="t" style="left:250.40px;top:621.00px;width:300px;line-height:10px;font-size:6.9px;color:#444;font-weight:700;text-align:left;letter-spacing:.6px;">Users</div>
<div class="t" style="left:300.40px;top:621.00px;width:300px;line-height:10px;font-size:6.9px;color:#444;font-weight:700;text-align:left;letter-spacing:.6px;">Online</div>
<div class="t" style="left:355.90px;top:621.00px;width:300px;line-height:10px;font-size:6.9px;color:#444;font-weight:700;text-align:left;letter-spacing:.6px;">Performance</div>
<div style="left:152px;top:635.5px;width:301px;height:1.5px;background:#e2e2e2"></div>
<div class="t" style="left:181.50px;top:642.30px;width:300px;line-height:10px;font-size:7.5px;color:#747474;font-weight:400;text-align:left;letter-spacing:.25px;">Germany</div>
<div class="t" style="left:250.00px;top:642.30px;width:300px;line-height:10px;font-size:7.5px;color:#747474;font-weight:400;text-align:left;letter-spacing:.25px;">2563</div>
<div class="t" style="left:300.00px;top:642.30px;width:300px;line-height:10px;font-size:7.5px;color:#747474;font-weight:400;text-align:left;letter-spacing:.25px;">1025</div>
<div style="left:355.5px;top:644.0px;width:94px;height:5px;background:#f8b23c;border-radius:1px"></div>
<div style="left:355.5px;top:644.0px;width:68.6px;height:5px;background:#f8535a;border-radius:1px 0 0 1px"></div>
<div style="left:152px;top:658px;width:301px;height:1px;background:#ececec"></div>
<div class="t" style="left:181.50px;top:663.15px;width:300px;line-height:10px;font-size:7.5px;color:#747474;font-weight:400;text-align:left;letter-spacing:.25px;">India</div>
<div class="t" style="left:250.00px;top:663.15px;width:300px;line-height:10px;font-size:7.5px;color:#747474;font-weight:400;text-align:left;letter-spacing:.25px;">3652</div>
<div class="t" style="left:300.00px;top:663.15px;width:300px;line-height:10px;font-size:7.5px;color:#747474;font-weight:400;text-align:left;letter-spacing:.25px;">2563</div>
<div style="left:355.5px;top:664.85px;width:94px;height:5px;background:#f8b23c;border-radius:1px"></div>
<div style="left:355.5px;top:664.85px;width:53.6px;height:5px;background:#f8535a;border-radius:1px 0 0 1px"></div>
<div style="left:152px;top:679px;width:301px;height:1px;background:#ececec"></div>
<div class="t" style="left:181.50px;top:684.00px;width:300px;line-height:10px;font-size:7.5px;color:#747474;font-weight:400;text-align:left;letter-spacing:.25px;">Spain</div>
<div class="t" style="left:250.00px;top:684.00px;width:300px;line-height:10px;font-size:7.5px;color:#747474;font-weight:400;text-align:left;letter-spacing:.25px;">562</div>
<div class="t" style="left:300.00px;top:684.00px;width:300px;line-height:10px;font-size:7.5px;color:#747474;font-weight:400;text-align:left;letter-spacing:.25px;">452</div>
<div style="left:355.5px;top:685.7px;width:94px;height:5px;background:#f8b23c;border-radius:1px"></div>
<div style="left:355.5px;top:685.7px;width:87.4px;height:5px;background:#f8535a;border-radius:1px 0 0 1px"></div>
<div style="left:152px;top:699px;width:301px;height:1px;background:#ececec"></div>
<div class="t" style="left:181.50px;top:704.85px;width:300px;line-height:10px;font-size:7.5px;color:#747474;font-weight:400;text-align:left;letter-spacing:.25px;">Russia</div>
<div class="t" style="left:250.00px;top:704.85px;width:300px;line-height:10px;font-size:7.5px;color:#747474;font-weight:400;text-align:left;letter-spacing:.25px;">1258</div>
<div class="t" style="left:300.00px;top:704.85px;width:300px;line-height:10px;font-size:7.5px;color:#747474;font-weight:400;text-align:left;letter-spacing:.25px;">958</div>
<div style="left:355.5px;top:706.55px;width:94px;height:5px;background:#f8b23c;border-radius:1px"></div>
<div style="left:355.5px;top:706.55px;width:18.8px;height:5px;background:#f8535a;border-radius:1px 0 0 1px"></div>
<div style="left:152px;top:720px;width:301px;height:1px;background:#ececec"></div>
<div class="t" style="left:181.50px;top:725.70px;width:300px;line-height:10px;font-size:7.5px;color:#747474;font-weight:400;text-align:left;letter-spacing:.25px;">USA</div>
<div class="t" style="left:250.00px;top:725.70px;width:300px;line-height:10px;font-size:7.5px;color:#747474;font-weight:400;text-align:left;letter-spacing:.25px;">4856</div>
<div class="t" style="left:300.00px;top:725.70px;width:300px;line-height:10px;font-size:7.5px;color:#747474;font-weight:400;text-align:left;letter-spacing:.25px;">3621</div>
<div style="left:355.5px;top:727.4px;width:94px;height:5px;background:#f8b23c;border-radius:1px"></div>
<div style="left:355.5px;top:727.4px;width:18.8px;height:5px;background:#f8535a;border-radius:1px 0 0 1px"></div>
<div style="left:152px;top:741px;width:301px;height:1px;background:#ececec"></div>
<div class="t" style="left:181.50px;top:746.55px;width:300px;line-height:10px;font-size:7.5px;color:#747474;font-weight:400;text-align:left;letter-spacing:.25px;">Brazil</div>
<div class="t" style="left:250.00px;top:746.55px;width:300px;line-height:10px;font-size:7.5px;color:#747474;font-weight:400;text-align:left;letter-spacing:.25px;">265</div>
<div class="t" style="left:300.00px;top:746.55px;width:300px;line-height:10px;font-size:7.5px;color:#747474;font-weight:400;text-align:left;letter-spacing:.25px;">102</div>
<div style="left:355.5px;top:748.25px;width:94px;height:5px;background:#f8b23c;border-radius:1px"></div>
<div style="left:355.5px;top:748.25px;width:18.8px;height:5px;background:#f8535a;border-radius:1px 0 0 1px"></div>
<svg class="i" style="left:0;top:0" width="800" height="780" viewBox="0 0 800 780"><rect x="156" y="644.0999999999999" width="10" height="2.17" fill="#7a2a22"/><rect x="156" y="646.27" width="10" height="2.17" fill="#e1241c"/><rect x="156" y="648.43" width="10" height="2.17" fill="#f6c321"/><rect x="156" y="664.9499999999999" width="10" height="2.17" fill="#f39a3c"/><rect x="156" y="667.12" width="10" height="2.17" fill="#f4f4f4"/><rect x="156" y="669.28" width="10" height="2.17" fill="#2c9a48"/><circle cx="161.0" cy="668.1999999999999" r=".900" fill="#34489c"/><rect x="156" y="685.8" width="10" height="6.5" fill="#d8302a"/><rect x="156" y="687.55" width="10" height="2.99" fill="#f7c52c"/><rect x="158" y="688.07" width="1.800" height="1.95" fill="#b6562a"/><rect x="156" y="706.6499999999999" width="10" height="2.17" fill="#f1f1f1"/><rect x="156" y="708.82" width="10" height="2.17" fill="#3a4fa3"/><rect x="156" y="710.98" width="10" height="2.17" fill="#d5322d"/><rect x="156" y="727.4999999999999" width="10" height="6.5" fill="#f3e9e9"/><rect x="156" y="727.50" width="10" height="0.93" fill="#d84450"/><rect x="156" y="729.36" width="10" height="0.93" fill="#d84450"/><rect x="156" y="731.21" width="10" height="0.93" fill="#d84450"/><rect x="156" y="733.07" width="10" height="0.93" fill="#d84450"/><rect x="156" y="727.4999999999999" width="4.5" height="3.58" fill="#3c4a9b"/><rect x="156" y="748.3499999999999" width="10" height="6.5" fill="#2f9a47"/><path d="M157.2,751.5999999999999L161.0,749.2499999999999L164.8,751.5999999999999L161.0,753.9499999999999Z" fill="#f6d32f"/><circle cx="161.0" cy="751.5999999999999" r="1.500" fill="#2b4a9c"/></svg>
<div class="p" style="left:475px;top:646.2px;width:150px;height:127.5px;"></div>
<div class="t" style="left:480.30px;top:660.00px;width:140px;line-height:22px;font-size:15.5px;color:#bfdc7c;font-weight:400;text-align:center;letter-spacing:-.25px;">Sold Out</div>
<div class="t" style="left:481.50px;top:686.00px;width:70px;line-height:10px;font-size:7.1px;color:#5c819c;font-weight:700;text-align:left;letter-spacing:.45px;">$256,256,25</div>
<div class="t" style="left:580.00px;top:685.50px;width:40px;line-height:11px;font-size:7.6px;color:#666;font-weight:400;text-align:right;">52%</div>
<svg class="i" style="left:0;top:0" width="800" height="780" viewBox="0 0 800 780"><path d="M490.83,755.23A60,60 0 0 1 610.17,755.23L578.35,758.57A28,28 0 0 0 522.65,758.57Z" fill="#f3f3f3"/><path d="M490.83,755.23A60,60 0 0 1 550.50,701.50L550.50,733.50A28,28 0 0 0 522.65,758.57Z" fill="#f6a552"/><path d="M548.30,761.48L551.03,700.50L552.70,761.52Z" fill="#3a3a3a" stroke="#3a3a3a" stroke-width="1" stroke-linejoin="round"/><circle cx="550.5" cy="761.5" r="2.300" fill="#3a3a3a"/><g transform="translate(594.5,687.8)"><circle cx="3.200" cy="3.200" r="2.700" fill="none" stroke="#86c457" stroke-width=".900"/><circle cx="3.200" cy="3.200" r="1" fill="#86c457"/></g></svg>
<div class="p" style="left:640px;top:646.2px;width:150px;height:127.5px;"></div>
<div class="t" style="left:645.30px;top:660.00px;width:140px;line-height:22px;font-size:15.5px;color:#bfdc7c;font-weight:400;text-align:center;letter-spacing:-.25px;">Profit</div>
<div class="t" style="left:646.50px;top:686.00px;width:70px;line-height:10px;font-size:7.1px;color:#5c819c;font-weight:700;text-align:left;letter-spacing:.45px;">$125,365,56</div>
<div class="t" style="left:745.00px;top:685.50px;width:40px;line-height:11px;font-size:7.6px;color:#666;font-weight:400;text-align:right;">70%</div>
<svg class="i" style="left:0;top:0" width="800" height="780" viewBox="0 0 800 780"><path d="M655.83,755.23A60,60 0 0 1 775.17,755.23L743.35,758.57A28,28 0 0 0 687.65,758.57Z" fill="#f3f3f3"/><path d="M655.83,755.23A60,60 0 0 1 756.42,717.62L734.60,741.02A28,28 0 0 0 687.65,758.57Z" fill="#61d095"/><path d="M713.89,760.00L757.10,716.89L717.11,763.00Z" fill="#3a3a3a" stroke="#3a3a3a" stroke-width="1" stroke-linejoin="round"/><circle cx="715.5" cy="761.5" r="2.300" fill="#3a3a3a"/><g transform="translate(759.5,687.8)"><circle cx="3.200" cy="3.200" r="2.700" fill="none" stroke="#86c457" stroke-width=".900"/><circle cx="3.200" cy="3.200" r="1" fill="#86c457"/></g></svg>
<div class="p" style="left:145px;top:792px;width:645px;height:199px;"></div>
<div class="ph" style="left:145px;top:792px;width:645px;height:19.5px;"></div>
<svg class="i" style="left:153.25px;top:798.35px;" width="7.5" height="6.8" viewBox="0 0 10 9"><rect x=".400" y=".400" width="9.200" height="8.200" fill="none" stroke="#e0574c" stroke-width=".800"/><rect x="2" y="4.500" width="1.500" height="3" fill="#e0574c"/><rect x="4.300" y="2" width="1.500" height="5.500" fill="#e0574c"/><rect x="6.600" y="3.500" width="1.500" height="4" fill="#e0574c"/></svg>
<div class="t" style="left:171.00px;top:796.35px;width:300px;line-height:11px;font-size:7.8px;color:#333;font-weight:700;text-align:left;letter-spacing:.24px;">xCharts</div>
<div style="left:730px;top:792px;width:1px;height:18.5px;background:#ededed"></div>
<svg class="i" style="left:736.7px;top:797.95px;" width="7.6" height="7.6" viewBox="0 0 10 10"><path d="M8.200 6.200A3.500 3.500 0 1 1 7.500 2.500" fill="none" stroke="#333" stroke-width="1.500"/><path d="M9.300.600v3.300H6z" fill="#333"/></svg>
<div style="left:750px;top:792px;width:1px;height:18.5px;background:#ededed"></div>
<svg class="i" style="left:756.7px;top:798.9px;" width="7.6" height="5.7" viewBox="0 0 8 6"><path d="M.9 4.6L4 1.5l3.1 3.100" fill="none" stroke="#333" stroke-width="1.35"/></svg>
<div style="left:770px;top:792px;width:1px;height:18.5px;background:#ededed"></div>
<svg class="i" style="left:777.5px;top:798.75px;" width="6" height="6" viewBox="0 0 8 8"><path d="M1.300 1.300l5.400 5.400M6.700 1.300L1.300 6.700" stroke="#333" stroke-width="1.900"/></svg>
<div class="t" style="left:163.50px;top:965.70px;width:20px;line-height:8px;font-size:5.8px;color:#777;font-weight:400;text-align:right;">0</div>
<div class="t" style="left:163.50px;top:949.39px;width:20px;line-height:8px;font-size:5.8px;color:#777;font-weight:400;text-align:right;">5</div>
<div class="t" style="left:163.50px;top:933.08px;width:20px;line-height:8px;font-size:5.8px;color:#777;font-weight:400;text-align:right;">10</div>
<div class="t" style="left:163.50px;top:916.77px;width:20px;line-height:8px;font-size:5.8px;color:#777;font-weight:400;text-align:right;">15</div>
<div class="t" style="left:163.50px;top:900.46px;width:20px;line-height:8px;font-size:5.8px;color:#777;font-weight:400;text-align:right;">20</div>
<div class="t" style="left:163.50px;top:884.15px;width:20px;line-height:8px;font-size:5.8px;color:#777;font-weight:400;text-align:right;">25</div>
<div class="t" style="left:163.50px;top:867.84px;width:20px;line-height:8px;font-size:5.8px;color:#777;font-weight:400;text-align:right;">30</div>
<div class="t" style="left:163.50px;top:851.53px;width:20px;line-height:8px;font-size:5.8px;color:#777;font-weight:400;text-align:right;">35</div>
<div class="t" style="left:163.50px;top:835.22px;width:20px;line-height:8px;font-size:5.8px;color:#777;font-weight:400;text-align:right;">40</div>
<div class="t" style="left:216.40px;top:974.70px;width:60px;line-height:8px;font-size:5.8px;color:#777;font-weight:400;text-align:center;letter-spacing:.2px;">Monday</div>
<div class="t" style="left:295.80px;top:974.70px;width:60px;line-height:8px;font-size:5.8px;color:#777;font-weight:400;text-align:center;letter-spacing:.2px;">Tuesday</div>
<div class="t" style="left:375.20px;top:974.70px;width:60px;line-height:8px;font-size:5.8px;color:#777;font-weight:400;text-align:center;letter-spacing:.2px;">Wednesday</div>
<div class="t" style="left:454.60px;top:974.70px;width:60px;line-height:8px;font-size:5.8px;color:#777;font-weight:400;text-align:center;letter-spacing:.2px;">Thursday</div>
<div class="t" style="left:534.00px;top:974.70px;width:60px;line-height:8px;font-size:5.8px;color:#777;font-weight:400;text-align:center;letter-spacing:.2px;">Friday</div>
<div class="t" style="left:613.40px;top:974.70px;width:60px;line-height:8px;font-size:5.8px;color:#777;font-weight:400;text-align:center;letter-spacing:.2px;">Saturday</div>
<div class="t" style="left:692.80px;top:974.70px;width:60px;line-height:8px;font-size:5.8px;color:#777;font-weight:400;text-align:center;letter-spacing:.2px;">Sunday</div>
<svg class="i" style="left:0;top:0" width="800" height="1000" viewBox="0 0 800 1000"><path d="M187,969.5H770" stroke="#f5f5f5" stroke-width="1"/><path d="M187,953.5H770" stroke="#f5f5f5" stroke-width="1"/><path d="M187,937.5H770" stroke="#f5f5f5" stroke-width="1"/><path d="M187,920.5H770" stroke="#f5f5f5" stroke-width="1"/><path d="M187,904.5H770" stroke="#f5f5f5" stroke-width="1"/><path d="M187,888.5H770" stroke="#f5f5f5" stroke-width="1"/><path d="M187,872.5H770" stroke="#f5f5f5" stroke-width="1"/><path d="M187,855.5H770" stroke="#f5f5f5" stroke-width="1"/><path d="M187,839.5H770" stroke="#f5f5f5" stroke-width="1"/><path d="M246.5,819V972.4" stroke="#f6f6f6" stroke-width="1"/><path d="M326.5,819V972.4" stroke="#f6f6f6" stroke-width="1"/><path d="M405.5,819V972.4" stroke="#f6f6f6" stroke-width="1"/><path d="M485.5,819V972.4" stroke="#f6f6f6" stroke-width="1"/><path d="M564.5,819V972.4" stroke="#f6f6f6" stroke-width="1"/><path d="M643.5,819V972.4" stroke="#f6f6f6" stroke-width="1"/><path d="M723.5,819V972.4" stroke="#f6f6f6" stroke-width="1"/><path d="M246.40,874.48Q309.92,851.41 325.80,855.56C349.62,861.77 381.38,908.76 405.20,915.90C429.02,923.05 460.78,901.08 484.60,903.18C508.42,905.29 540.18,931.50 564.00,929.93C587.82,928.36 619.58,894.06 643.40,892.74Q659.28,891.86 722.80,921.12L722.80,969.4L246.40,969.4Z" fill="#cfe8c2" fill-opacity="0.42"/><path d="M246.40,874.48Q309.92,851.41 325.80,855.56C349.62,861.77 381.38,908.76 405.20,915.90C429.02,923.05 460.78,901.08 484.60,903.18C508.42,905.29 540.18,931.50 564.00,929.93C587.82,928.36 619.58,894.06 643.40,892.74Q659.28,891.86 722.80,921.12" fill="none" stroke="#5cac3f" stroke-width="1.850"/><circle cx="246.40" cy="874.48" r="2.400" fill="#5cac3f" stroke="#fff" stroke-width=".500"/><circle cx="325.80" cy="855.56" r="2.400" fill="#5cac3f" stroke="#fff" stroke-width=".500"/><circle cx="405.20" cy="915.90" r="2.400" fill="#5cac3f" stroke="#fff" stroke-width=".500"/><circle cx="484.60" cy="903.18" r="2.400" fill="#5cac3f" stroke="#fff" stroke-width=".500"/><circle cx="564.00" cy="929.93" r="2.400" fill="#5cac3f" stroke="#fff" stroke-width=".500"/><circle cx="643.40" cy="892.74" r="2.400" fill="#5cac3f" stroke="#fff" stroke-width=".500"/><circle cx="722.80" cy="921.12" r="2.400" fill="#5cac3f" stroke="#fff" stroke-width=".500"/><path d="M246.40,920.80Q309.92,928.23 325.80,929.93C349.62,932.47 381.38,937.76 405.20,937.76C429.02,937.76 460.78,927.09 484.60,929.93C508.42,932.77 540.18,955.26 564.00,956.68C587.82,958.10 619.58,943.26 643.40,939.39Q659.28,936.81 722.80,930.91L722.80,969.4L246.40,969.4Z" fill="#a9d0d8" fill-opacity="0.38"/><path d="M246.40,920.80Q309.92,928.23 325.80,929.93C349.62,932.47 381.38,937.76 405.20,937.76C429.02,937.76 460.78,927.09 484.60,929.93C508.42,932.77 540.18,955.26 564.00,956.68C587.82,958.10 619.58,943.26 643.40,939.39Q659.28,936.81 722.80,930.91" fill="none" stroke="#3f86a8" stroke-width="1.850"/><circle cx="246.40" cy="920.80" r="2.400" fill="#3f86a8" stroke="#fff" stroke-width=".500"/><circle cx="325.80" cy="929.93" r="2.400" fill="#3f86a8" stroke="#fff" stroke-width=".500"/><circle cx="405.20" cy="937.76" r="2.400" fill="#3f86a8" stroke="#fff" stroke-width=".500"/><circle cx="484.60" cy="929.93" r="2.400" fill="#3f86a8" stroke="#fff" stroke-width=".500"/><circle cx="564.00" cy="956.68" r="2.400" fill="#3f86a8" stroke="#fff" stroke-width=".500"/><circle cx="643.40" cy="939.39" r="2.400" fill="#3f86a8" stroke="#fff" stroke-width=".500"/><circle cx="722.80" cy="930.91" r="2.400" fill="#3f86a8" stroke="#fff" stroke-width=".500"/></svg>
<div class="p" style="left:145px;top:1009.4px;width:315px;height:193.6px;"></div>
<div class="ph" style="left:145px;top:1009.4px;width:315px;height:19.5px;"></div>
<svg class="i" style="left:153.25px;top:1015.4px;" width="7.5" height="7.5" viewBox="0 0 10 10"><circle cx="5" cy="5" r="3.600" fill="none" stroke="#e0574c" stroke-width="1.300" stroke-dasharray="2.200 1.600"/></svg>
<div class="t" style="left:171.00px;top:1013.75px;width:300px;line-height:11px;font-size:7.8px;color:#333;font-weight:700;text-align:left;letter-spacing:.24px;">In Progress</div>
<div style="left:400px;top:1009.4px;width:1px;height:18.5px;background:#ededed"></div>
<svg class="i" style="left:406.7px;top:1015.35px;" width="7.6" height="7.6" viewBox="0 0 10 10"><path d="M8.200 6.200A3.500 3.500 0 1 1 7.500 2.500" fill="none" stroke="#333" stroke-width="1.500"/><path d="M9.300.600v3.300H6z" fill="#333"/></svg>
<div style="left:420px;top:1009.4px;width:1px;height:18.5px;background:#ededed"></div>
<svg class="i" style="left:426.7px;top:1016.3px;" width="7.6" height="5.7" viewBox="0 0 8 6"><path d="M.9 4.6L4 1.5l3.1 3.100" fill="none" stroke="#333" stroke-width="1.35"/></svg>
<div style="left:440px;top:1009.4px;width:1px;height:18.5px;background:#ededed"></div>
<svg class="i" style="left:447.5px;top:1016.15px;" width="6" height="6" viewBox="0 0 8 8"><path d="M1.300 1.300l5.400 5.400M6.700 1.300L1.300 6.700" stroke="#333" stroke-width="1.900"/></svg>
<div style="left:323px;top:1009.4px;width:37.5px;height:19.5px;background:#1ea7e6"></div>
<div class="t" style="left:322.80px;top:1014.80px;width:38px;line-height:10px;font-size:7.2px;color:#d7effb;font-weight:400;text-align:center;">Tasks</div>
<div class="t" style="left:361.00px;top:1014.80px;width:40px;line-height:10px;font-size:7.2px;color:#555;font-weight:400;text-align:center;">Tickets</div>
<div class="t" style="left:156.00px;top:1044.50px;width:60px;line-height:9px;font-size:6.5px;color:#444;font-weight:700;text-align:left;letter-spacing:-.05px;">Task</div>
<div class="t" style="left:265.00px;top:1044.50px;width:60px;line-height:9px;font-size:6.5px;color:#444;font-weight:700;text-align:left;letter-spacing:-.05px;">Assigned to</div>
<div class="t" style="left:339.00px;top:1044.50px;width:60px;line-height:9px;font-size:6.5px;color:#444;font-weight:700;text-align:left;letter-spacing:-.05px;">Progress</div>
<div class="t" style="left:394.00px;top:1044.50px;width:60px;line-height:9px;font-size:6.5px;color:#444;font-weight:700;text-align:center;letter-spacing:-.05px;">Status</div>
<div style="left:152px;top:1057.3px;width:301px;height:1.5px;background:#e2e2e2"></div>
<div class="t" style="left:156.00px;top:1063.70px;width:300px;line-height:10px;font-size:6.8px;color:#6a6a6a;font-weight:400;text-align:left;letter-spacing:.1px;">Disk Performance</div>
<div class="t" style="left:265.00px;top:1063.70px;width:300px;line-height:10px;font-size:6.8px;color:#6a6a6a;font-weight:400;text-align:left;letter-spacing:.1px;">Marcalt</div>
<div style="left:339px;top:1065.7px;width:50.5px;height:5px;background:#ededed;border-radius:1px"></div>
<div style="left:339px;top:1065.7px;width:20.2px;height:5px;background:#6cb544;border-radius:1px 0 0 1px"></div>
<div class="t" style="left:394.00px;top:1063.70px;width:60px;line-height:10px;font-size:6.8px;color:#4aa3da;font-weight:400;text-align:center;letter-spacing:.1px;">Active</div>
<div style="left:152px;top:1078px;width:301px;height:1px;background:#ececec"></div>
<div class="t" style="left:156.00px;top:1082.95px;width:300px;line-height:10px;font-size:6.8px;color:#6a6a6a;font-weight:400;text-align:left;letter-spacing:.1px;">Package Usage</div>
<div class="t" style="left:265.00px;top:1082.95px;width:300px;line-height:10px;font-size:6.8px;color:#6a6a6a;font-weight:400;text-align:left;letter-spacing:.1px;">Jenny Coe</div>
<div style="left:339px;top:1084.95px;width:50.5px;height:5px;background:#ededed;border-radius:1px"></div>
<div style="left:339px;top:1084.95px;width:36.9px;height:5px;background:#6cb544;border-radius:1px 0 0 1px"></div>
<div class="t" style="left:394.00px;top:1082.95px;width:60px;line-height:10px;font-size:6.8px;color:#7fc4ee;font-weight:400;text-align:center;letter-spacing:.1px;">Active</div>
<div style="left:152px;top:1097px;width:301px;height:1px;background:#ececec"></div>
<div class="t" style="left:156.00px;top:1102.20px;width:300px;line-height:10px;font-size:6.8px;color:#6a6a6a;font-weight:400;text-align:left;letter-spacing:.1px;">Payment Process</div>
<div class="t" style="left:265.00px;top:1102.20px;width:300px;line-height:10px;font-size:6.8px;color:#6a6a6a;font-weight:400;text-align:left;letter-spacing:.1px;">Jack Key</div>
<div style="left:339px;top:1104.2px;width:50.5px;height:5px;background:#ededed;border-radius:1px"></div>
<div style="left:339px;top:1104.2px;width:48.0px;height:5px;background:#6cb544;border-radius:1px 0 0 1px"></div>
<div class="t" style="left:394.00px;top:1102.20px;width:60px;line-height:10px;font-size:6.8px;color:#9ccb7c;font-weight:400;text-align:center;letter-spacing:.1px;">Active</div>
<div style="left:152px;top:1117px;width:301px;height:1px;background:#ececec"></div>
<div class="t" style="left:156.00px;top:1121.45px;width:300px;line-height:10px;font-size:6.8px;color:#6a6a6a;font-weight:400;text-align:left;letter-spacing:.1px;">Storage Capacity</div>
<div class="t" style="left:265.00px;top:1121.45px;width:300px;line-height:10px;font-size:6.8px;color:#6a6a6a;font-weight:400;text-align:left;letter-spacing:.1px;">Jimmy Doe</div>
<div style="left:339px;top:1123.45px;width:50.5px;height:5px;background:#ededed;border-radius:1px"></div>
<div style="left:339px;top:1123.45px;width:36.9px;height:5px;background:#f0515b;border-radius:1px 0 0 1px"></div>
<div class="t" style="left:394.00px;top:1121.45px;width:60px;line-height:10px;font-size:6.8px;color:#f0717a;font-weight:400;text-align:center;letter-spacing:.1px;">Canceled</div>
<div style="left:152px;top:1136px;width:301px;height:1px;background:#ececec"></div>
<div class="t" style="left:156.00px;top:1140.70px;width:300px;line-height:10px;font-size:6.8px;color:#6a6a6a;font-weight:400;text-align:left;letter-spacing:.1px;">Web Development</div>
<div class="t" style="left:265.00px;top:1140.70px;width:300px;line-height:10px;font-size:6.8px;color:#6a6a6a;font-weight:400;text-align:left;letter-spacing:.1px;">Jossy</div>
<div style="left:339px;top:1142.7px;width:50.5px;height:5px;background:#ededed;border-radius:1px"></div>
<div style="left:339px;top:1142.7px;width:12.6px;height:5px;background:#f5b13f;border-radius:1px 0 0 1px"></div>
<div class="t" style="left:394.00px;top:1140.70px;width:60px;line-height:10px;font-size:6.8px;color:#f3c56e;font-weight:400;text-align:center;letter-spacing:.1px;">Pending</div>
<div style="left:152px;top:1155px;width:301px;height:1px;background:#ececec"></div>
<div class="t" style="left:156.00px;top:1159.95px;width:300px;line-height:10px;font-size:6.8px;color:#6a6a6a;font-weight:400;text-align:left;letter-spacing:.1px;">Web Error</div>
<div class="t" style="left:265.00px;top:1159.95px;width:300px;line-height:10px;font-size:6.8px;color:#6a6a6a;font-weight:400;text-align:left;letter-spacing:.1px;">Alex Bram</div>
<div style="left:339px;top:1161.95px;width:50.5px;height:5px;background:#ededed;border-radius:1px"></div>
<div style="left:339px;top:1161.95px;width:25.2px;height:5px;background:#6cb544;border-radius:1px 0 0 1px"></div>
<div class="t" style="left:394.00px;top:1159.95px;width:60px;line-height:10px;font-size:6.8px;color:#4aa3da;font-weight:400;text-align:center;letter-spacing:.1px;">Active</div>
<div style="left:152px;top:1174px;width:301px;height:1px;background:#ececec"></div>
<div class="t" style="left:156.00px;top:1179.20px;width:300px;line-height:10px;font-size:6.8px;color:#6a6a6a;font-weight:400;text-align:left;letter-spacing:.1px;">Yearly Services</div>
<div class="t" style="left:265.00px;top:1179.20px;width:300px;line-height:10px;font-size:6.8px;color:#6a6a6a;font-weight:400;text-align:left;letter-spacing:.1px;">Morgan</div>
<div style="left:339px;top:1181.2px;width:50.5px;height:5px;background:#ededed;border-radius:1px"></div>
<div style="left:339px;top:1181.2px;width:12.6px;height:5px;background:#f5b13f;border-radius:1px 0 0 1px"></div>
<div class="t" style="left:394.00px;top:1179.20px;width:60px;line-height:10px;font-size:6.8px;color:#f0cf78;font-weight:400;text-align:center;letter-spacing:.1px;">Pending</div>
<div style="left:474.7px;top:1009.2px;width:151px;height:88.5px;background:#fff"></div>
<div style="left:474.7px;top:1009.2px;width:151px;height:50px;background:#3b5998"></div>
<div class="t" style="left:530.20px;top:1019.00px;width:40px;line-height:30px;font-size:25.5px;color:#fff;font-weight:700;text-align:center;transform:scaleX(1.3);">f</div>
<div class="t" style="left:482.30px;top:1066.70px;width:60px;line-height:15px;font-size:10.6px;color:#444;font-weight:700;text-align:center;letter-spacing:.25px;">256k</div>
<div class="t" style="left:482.30px;top:1085.50px;width:60px;line-height:7px;font-size:4.8px;color:#e4e4e4;font-weight:400;text-align:center;letter-spacing:.5px;">FRIENDS</div>
<div class="t" style="left:558.10px;top:1066.70px;width:60px;line-height:15px;font-size:10.6px;color:#444;font-weight:700;text-align:center;letter-spacing:.25px;">359</div>
<div class="t" style="left:558.10px;top:1085.50px;width:60px;line-height:7px;font-size:4.8px;color:#e4e4e4;font-weight:400;text-align:center;letter-spacing:.5px;">FEEDS</div>
<div style="left:550.2px;top:1063.2px;width:1px;height:30px;background:#fafafa"></div>
<div style="left:640px;top:1009.2px;width:150.5px;height:88.5px;background:#fff"></div>
<div style="left:640px;top:1009.2px;width:150.5px;height:50px;background:#00acee"></div>
<svg class="i" style="left:705.8px;top:1025.2px;" width="19.4" height="16.2" viewBox="0 0 24 20"><path d="M24 2.400c-.900.400-1.800.700-2.800.800 1-.600 1.800-1.600 2.200-2.700-.900.600-2 1-3.100 1.200A4.900 4.900 0 0 0 16.700 0c-2.700 0-4.900 2.200-4.900 4.900 0 .400 0 .800.100 1.100C7.800 5.800 4.100 3.900 1.700.900 1.200 1.700 1 2.500 1 3.400c0 1.700.900 3.200 2.200 4.100-.800 0-1.600-.200-2.200-.600v.100c0 2.400 1.700 4.400 3.900 4.800-.400.100-.800.200-1.300.200-.300 0-.600 0-.900-.100.600 2 2.400 3.400 4.600 3.400A9.900 9.900 0 0 1 0 17.500 13.900 13.900 0 0 0 7.500 19.700c9.100 0 14-7.500 14-14v-.600c1-.700 1.800-1.600 2.500-2.700z" fill="#fff"/></svg>
<div class="t" style="left:647.60px;top:1066.70px;width:60px;line-height:15px;font-size:10.6px;color:#444;font-weight:700;text-align:center;letter-spacing:.25px;">1562k</div>
<div class="t" style="left:647.60px;top:1085.50px;width:60px;line-height:7px;font-size:4.8px;color:#e4e4e4;font-weight:400;text-align:center;letter-spacing:.5px;">FOLLOWERS</div>
<div class="t" style="left:723.40px;top:1066.70px;width:60px;line-height:15px;font-size:10.6px;color:#444;font-weight:700;text-align:center;letter-spacing:.25px;">2562</div>
<div class="t" style="left:723.40px;top:1085.50px;width:60px;line-height:7px;font-size:4.8px;color:#e4e4e4;font-weight:400;text-align:center;letter-spacing:.5px;">TWEETS</div>
<div style="left:715.5px;top:1063.2px;width:1px;height:30px;background:#fafafa"></div>
<div style="left:474.7px;top:1114px;width:151px;height:88.5px;background:#fff"></div>
<div style="left:474.7px;top:1114px;width:151px;height:50px;background:#4875b4"></div>
<div class="t" style="left:530.20px;top:1124.50px;width:40px;line-height:28px;font-size:24px;color:#fff;font-weight:700;text-align:center;letter-spacing:-.3px;">in</div>
<div class="t" style="left:482.30px;top:1171.50px;width:60px;line-height:15px;font-size:10.6px;color:#444;font-weight:700;text-align:center;letter-spacing:.25px;">8926</div>
<div class="t" style="left:482.30px;top:1190.30px;width:60px;line-height:7px;font-size:4.8px;color:#e4e4e4;font-weight:400;text-align:center;letter-spacing:.5px;">CONTACTS</div>
<div class="t" style="left:558.10px;top:1171.50px;width:60px;line-height:15px;font-size:10.6px;color:#444;font-weight:700;text-align:center;letter-spacing:.25px;">6253</div>
<div class="t" style="left:558.10px;top:1190.30px;width:60px;line-height:7px;font-size:4.8px;color:#e4e4e4;font-weight:400;text-align:center;letter-spacing:.5px;">FEEDS</div>
<div style="left:550.2px;top:1168px;width:1px;height:30px;background:#fafafa"></div>
<div style="left:640px;top:1114px;width:150.5px;height:88.5px;background:#fff"></div>
<div style="left:640px;top:1114px;width:150.5px;height:50px;background:#d44937"></div>
<div class="t" style="left:695.5px;top:1122.5px;width:40px;line-height:30px;font-size:25px;color:#fff;text-align:center;font-family:'Liberation Serif',serif">g<span style="font-size:12px;font-weight:700;vertical-align:7px;font-family:'Liberation Sans',sans-serif;margin-left:-1px">+</span></div>
<div class="t" style="left:647.60px;top:1171.50px;width:60px;line-height:15px;font-size:10.6px;color:#444;font-weight:700;text-align:center;letter-spacing:.25px;">962</div>
<div class="t" style="left:647.60px;top:1190.30px;width:60px;line-height:7px;font-size:4.8px;color:#e4e4e4;font-weight:400;text-align:center;letter-spacing:.5px;">FOLLOWERS</div>
<div class="t" style="left:723.40px;top:1171.50px;width:60px;line-height:15px;font-size:10.6px;color:#444;font-weight:700;text-align:center;letter-spacing:.25px;">256</div>
<div class="t" style="left:723.40px;top:1190.30px;width:60px;line-height:7px;font-size:4.8px;color:#e4e4e4;font-weight:400;text-align:center;letter-spacing:.5px;">CIRCLES</div>
<div style="left:715.5px;top:1168px;width:1px;height:30px;background:#fafafa"></div>
<div class="p" style="left:145px;top:1221px;width:205.5px;height:331.5px;"></div>
<div style="left:145px;top:1221px;width:205.5px;height:27.3px;background:#f7f7f7;border-bottom:1px solid #e9e9e9"></div>
<svg class="i" style="left:160.5px;top:1233.2px;" width="4" height="7" viewBox="0 0 5 8"><path d="M4.2.8L1 4l3.2 3.2" fill="none" stroke="#555" stroke-width="1.4"/></svg>
<svg class="i" style="left:331.5px;top:1233.2px;" width="4" height="7" viewBox="0 0 5 8"><path d="M.8.8L4 4 .8 7.2" fill="none" stroke="#555" stroke-width="1.4"/></svg>
<div class="t" style="left:207.50px;top:1232.30px;width:80px;line-height:9px;font-size:6.4px;color:#555;font-weight:400;text-align:center;letter-spacing:-.35px;">AUGUST 2015</div>
<div style="left:174px;top:1249px;width:1px;height:211px;background:#ececec"></div>
<div style="left:203px;top:1249px;width:1px;height:211px;background:#ececec"></div>
<div style="left:232px;top:1249px;width:1px;height:211px;background:#ececec"></div>
<div style="left:261px;top:1249px;width:1px;height:211px;background:#ececec"></div>
<div style="left:290px;top:1249px;width:1px;height:211px;background:#ececec"></div>
<div style="left:318px;top:1249px;width:1px;height:211px;background:#ececec"></div>
<div style="left:145px;top:1277px;width:205.5px;height:1px;background:#ececec"></div>
<div style="left:145px;top:1308px;width:205.5px;height:1px;background:#ececec"></div>
<div style="left:145px;top:1338px;width:205.5px;height:1px;background:#ececec"></div>
<div style="left:145px;top:1368px;width:205.5px;height:1px;background:#ececec"></div>
<div style="left:145px;top:1398px;width:205.5px;height:1px;background:#ececec"></div>
<div style="left:145px;top:1430px;width:205.5px;height:1px;background:#ececec"></div>
<div class="t" style="left:146.00px;top:1258.50px;width:28px;line-height:7px;font-size:4.9px;color:#666;font-weight:700;text-align:center;letter-spacing:.35px;">SUN</div>
<div class="t" style="left:175.00px;top:1258.50px;width:28px;line-height:7px;font-size:4.9px;color:#666;font-weight:700;text-align:center;letter-spacing:.35px;">MON</div>
<div class="t" style="left:203.60px;top:1258.50px;width:28px;line-height:7px;font-size:4.9px;color:#666;font-weight:700;text-align:center;letter-spacing:.35px;">TUE</div>
<div class="t" style="left:232.00px;top:1258.50px;width:28px;line-height:7px;font-size:4.9px;color:#666;font-weight:700;text-align:center;letter-spacing:.35px;">WED</div>
<div class="t" style="left:261.00px;top:1258.50px;width:28px;line-height:7px;font-size:4.9px;color:#666;font-weight:700;text-align:center;letter-spacing:.35px;">THU</div>
<div class="t" style="left:290.00px;top:1258.50px;width:28px;line-height:7px;font-size:4.9px;color:#666;font-weight:700;text-align:center;letter-spacing:.35px;">FRI</div>
<div class="t" style="left:320.00px;top:1258.50px;width:28px;line-height:7px;font-size:4.9px;color:#666;font-weight:700;text-align:center;letter-spacing:.35px;">SAT</div>
<div class="t" style="left:146.00px;top:1288.40px;width:28px;line-height:10px;font-size:7px;color:#f1f1f1;font-weight:400;text-align:center;">26</div>
<div class="t" style="left:175.00px;top:1288.40px;width:28px;line-height:10px;font-size:7px;color:#f1f1f1;font-weight:400;text-align:center;">27</div>
<div class="t" style="left:203.60px;top:1288.40px;width:28px;line-height:10px;font-size:7px;color:#f1f1f1;font-weight:400;text-align:center;">28</div>
<div class="t" style="left:232.00px;top:1288.40px;width:28px;line-height:10px;font-size:7px;color:#f1f1f1;font-weight:400;text-align:center;">29</div>
<div class="t" style="left:261.00px;top:1288.40px;width:28px;line-height:10px;font-size:7px;color:#f1f1f1;font-weight:400;text-align:center;">30</div>
<div class="t" style="left:290.00px;top:1288.40px;width:28px;line-height:10px;font-size:7px;color:#f1f1f1;font-weight:400;text-align:center;">31</div>
<div class="t" style="left:320.00px;top:1288.60px;width:28px;line-height:10px;font-size:7.1px;color:#606060;font-weight:400;text-align:center;">1</div>
<div class="t" style="left:146.00px;top:1319.30px;width:28px;line-height:10px;font-size:7.1px;color:#606060;font-weight:400;text-align:center;">2</div>
<div class="t" style="left:175.00px;top:1319.30px;width:28px;line-height:10px;font-size:7.1px;color:#606060;font-weight:400;text-align:center;">3</div>
<div class="t" style="left:203.60px;top:1319.30px;width:28px;line-height:10px;font-size:7.1px;color:#606060;font-weight:400;text-align:center;">4</div>
<div class="t" style="left:232.00px;top:1319.30px;width:28px;line-height:10px;font-size:7.1px;color:#c9706c;font-weight:400;text-align:center;">5</div>
<div class="t" style="left:261.00px;top:1319.30px;width:28px;line-height:10px;font-size:7.1px;color:#606060;font-weight:400;text-align:center;">6</div>
<div class="t" style="left:290.00px;top:1319.30px;width:28px;line-height:10px;font-size:7.1px;color:#606060;font-weight:400;text-align:center;">7</div>
<div class="t" style="left:320.00px;top:1319.30px;width:28px;line-height:10px;font-size:7.1px;color:#606060;font-weight:400;text-align:center;">8</div>
<div class="t" style="left:146.00px;top:1349.60px;width:28px;line-height:10px;font-size:7.1px;color:#606060;font-weight:400;text-align:center;">9</div>
<div class="t" style="left:175.00px;top:1349.60px;width:28px;line-height:10px;font-size:7.1px;color:#606060;font-weight:400;text-align:center;">10</div>
<div class="t" style="left:203.60px;top:1349.60px;width:28px;line-height:10px;font-size:7.1px;color:#606060;font-weight:400;text-align:center;">11</div>
<div class="t" style="left:232.00px;top:1349.60px;width:28px;line-height:10px;font-size:7.1px;color:#606060;font-weight:400;text-align:center;">12</div>
<div class="t" style="left:261.00px;top:1349.60px;width:28px;line-height:10px;font-size:7.1px;color:#606060;font-weight:400;text-align:center;">13</div>
<div class="t" style="left:290.00px;top:1349.60px;width:28px;line-height:10px;font-size:7.1px;color:#606060;font-weight:400;text-align:center;">14</div>
<div class="t" style="left:320.00px;top:1349.60px;width:28px;line-height:10px;font-size:7.1px;color:#606060;font-weight:400;text-align:center;">15</div>
<div class="t" style="left:146.00px;top:1380.10px;width:28px;line-height:10px;font-size:7.1px;color:#606060;font-weight:400;text-align:center;">16</div>
<div class="t" style="left:175.00px;top:1380.10px;width:28px;line-height:10px;font-size:7.1px;color:#606060;font-weight:400;text-align:center;">17</div>
<div class="t" style="left:203.60px;top:1380.10px;width:28px;line-height:10px;font-size:7.1px;color:#606060;font-weight:400;text-align:center;">18</div>
<div class="t" style="left:232.00px;top:1380.10px;width:28px;line-height:10px;font-size:7.1px;color:#606060;font-weight:400;text-align:center;">19</div>
<div class="t" style="left:261.00px;top:1380.10px;width:28px;line-height:10px;font-size:7.1px;color:#606060;font-weight:400;text-align:center;">20</div>
<div class="t" style="left:290.00px;top:1380.10px;width:28px;line-height:10px;font-size:7.1px;color:#606060;font-weight:400;text-align:center;">21</div>
<div class="t" style="left:320.00px;top:1380.10px;width:28px;line-height:10px;font-size:7.1px;color:#606060;font-weight:400;text-align:center;">22</div>
<div class="t" style="left:146.00px;top:1410.60px;width:28px;line-height:10px;font-size:7.1px;color:#606060;font-weight:400;text-align:center;">23</div>
<div class="t" style="left:175.00px;top:1410.60px;width:28px;line-height:10px;font-size:7.1px;color:#606060;font-weight:400;text-align:center;">24</div>
<div class="t" style="left:203.60px;top:1410.60px;width:28px;line-height:10px;font-size:7.1px;color:#606060;font-weight:400;text-align:center;">25</div>
<div class="t" style="left:232.00px;top:1410.60px;width:28px;line-height:10px;font-size:7.1px;color:#606060;font-weight:400;text-align:center;">26</div>
<div class="t" style="left:261.00px;top:1410.60px;width:28px;line-height:10px;font-size:7.1px;color:#606060;font-weight:400;text-align:center;">27</div>
<div class="t" style="left:290.00px;top:1410.60px;width:28px;line-height:10px;font-size:7.1px;color:#606060;font-weight:400;text-align:center;">28</div>
<div class="t" style="left:320.00px;top:1410.60px;width:28px;line-height:10px;font-size:7.1px;color:#606060;font-weight:400;text-align:center;">29</div>
<div class="t" style="left:146.00px;top:1441.10px;width:28px;line-height:10px;font-size:7.1px;color:#606060;font-weight:400;text-align:center;">30</div>
<div class="t" style="left:175.00px;top:1441.10px;width:28px;line-height:10px;font-size:7.1px;color:#606060;font-weight:400;text-align:center;">31</div>
<div class="t" style="left:203.60px;top:1440.90px;width:28px;line-height:10px;font-size:7px;color:#f1f1f1;font-weight:400;text-align:center;">1</div>
<div class="t" style="left:232.00px;top:1440.90px;width:28px;line-height:10px;font-size:7px;color:#f1f1f1;font-weight:400;text-align:center;">2</div>
<div class="t" style="left:261.00px;top:1440.90px;width:28px;line-height:10px;font-size:7px;color:#f1f1f1;font-weight:400;text-align:center;">3</div>
<div class="t" style="left:290.00px;top:1440.90px;width:28px;line-height:10px;font-size:7px;color:#f1f1f1;font-weight:400;text-align:center;">4</div>
<div class="t" style="left:320.00px;top:1440.90px;width:28px;line-height:10px;font-size:7px;color:#f1f1f1;font-weight:400;text-align:center;">5</div>
<div style="left:234.4px;top:1313.2px;width:23px;height:23px;border:1.2px solid #dc5f5a;border-radius:50%"></div>
<div style="left:145px;top:1449px;width:205.5px;height:1px;background:#dcdcdc"></div>
<div style="left:145px;top:1460px;width:205.5px;height:92.5px;background:#fff"></div>
<div style="left:153.7px;top:1466.5px;width:12.3px;height:12.3px;border:1px solid #f3f3f3;background:#fff"></div>
<div class="t" style="left:176.60px;top:1466.80px;width:300px;line-height:11px;font-size:8px;color:#5a5a5a;font-weight:400;text-align:left;">Lunch With Clients</div>
<div style="left:176.5px;top:1478px;width:166px;height:1px;background:#e4e4e4"></div>
<svg class="i" style="left:333px;top:1468.0px;" width="8" height="8" viewBox="0 0 32 32"><path d="M11.5 14.5c2.5-2.2 4.2-4.6 4.6-8.6.2-2 .9-3.4 2.6-3.4 2 0 3.1 1.7 3.1 4.2 0 1.9-.6 3.6-1.3 5.2h6.2c1.7 0 3 1.2 3 2.8 0 1-.5 1.9-1.200 2.400.5.5.8 1.200.8 2 0 1.200-.7 2.200-1.700 2.600.2.400.3.800.3 1.300 0 1.300-.9 2.300-2.100 2.600.1.300.1.600.1.900 0 1.700-1.400 2.800-3.400 2.800h-4.600c-2.600 0-4.500-.9-6.400-1.700z" fill="none" stroke="#ccc" stroke-width="2.6" stroke-linejoin="round"/><rect x="2" y="13.5" width="7.5" height="15.5" rx="1" fill="none" stroke="#ccc" stroke-width="2.6"/><rect x="4.2" y="24" width="3" height="3" fill="#ccc"/></svg>
<div style="left:153.7px;top:1486.6px;width:12.3px;height:12.3px;border:1px solid #f3f3f3;background:#fff"></div>
<div class="t" style="left:176.60px;top:1486.90px;width:300px;line-height:11px;font-size:8px;color:#5a5a5a;font-weight:400;text-align:left;">Meeting With All Staff</div>
<div style="left:176.5px;top:1498px;width:166px;height:1px;background:#e4e4e4"></div>
<svg class="i" style="left:331px;top:1489.6px;" width="10" height="6.5" viewBox="0 0 12 8"><path d="M.500 3.500h3L5 .800h1.300L5.600 3.500h3.500l2 .800-2 .800H5.600l.700 2.400H5L3.500 5H.500z" fill="none" stroke="#ccc" stroke-width=".800" stroke-linejoin="round"/></svg>
<div style="left:153.7px;top:1507px;width:12.3px;height:12.3px;border:1px solid #f3f3f3;background:#fff"></div>
<div class="t" style="left:176.60px;top:1507.30px;width:300px;line-height:11px;font-size:8px;color:#5a5a5a;font-weight:400;text-align:left;">Factory Birthday</div>
<div style="left:176.5px;top:1518px;width:166px;height:1px;background:#e4e4e4"></div>
<svg class="i" style="left:333px;top:1508.5px;" width="8" height="8" viewBox="0 0 10 10"><path d="M5 .800l1.300 2.800 3 .400-2.200 2.100.600 3L5 7.600 2.300 9.100l.600-3L.700 4l3-.400z" fill="none" stroke="#ccc" stroke-width=".900" stroke-linejoin="round"/></svg>
<div style="left:153px;top:1524.8px;width:87.5px;height:18.7px;background:#6cbb3c"></div>
<div class="t" style="left:156.70px;top:1529.30px;width:80px;line-height:10px;font-size:7.2px;color:#d5efc4;font-weight:400;text-align:center;">Accept</div>
<div style="left:255.5px;top:1524.8px;width:87.3px;height:18.7px;background:#f0f0f0;border:1px solid #e0e0e0"></div>
<div class="t" style="left:259.00px;top:1529.30px;width:80px;line-height:10px;font-size:7.2px;color:#c4c4c4;font-weight:400;text-align:center;">Discard</div>
<div class="p" style="left:365.5px;top:1221px;width:424.5px;height:282px;"></div>
<div class="ph" style="left:365.5px;top:1221px;width:424.5px;height:19.5px;"></div>
<svg class="i" style="left:375px;top:1227.8px;" width="7" height="5.6" viewBox="0 0 10 8"><path d="M1 4.200l2.800 2.600L9 1.300" fill="none" stroke="#e0574c" stroke-width="2"/></svg>
<div class="t" style="left:390.80px;top:1225.60px;width:300px;line-height:11px;font-size:7.8px;color:#333;font-weight:700;text-align:left;letter-spacing:.24px;">To Do</div>
<div style="left:730px;top:1221.5px;width:1px;height:18.5px;background:#ededed"></div>
<svg class="i" style="left:736.7px;top:1227.2px;" width="7.6" height="7.6" viewBox="0 0 10 10"><path d="M8.200 6.200A3.500 3.500 0 1 1 7.500 2.500" fill="none" stroke="#333" stroke-width="1.500"/><path d="M9.300.600v3.300H6z" fill="#333"/></svg>
<div style="left:750px;top:1221.5px;width:1px;height:18.5px;background:#ededed"></div>
<svg class="i" style="left:756.7px;top:1228.15px;" width="7.6" height="5.7" viewBox="0 0 8 6"><path d="M.9 4.6L4 1.5l3.1 3.100" fill="none" stroke="#333" stroke-width="1.35"/></svg>
<div style="left:770px;top:1221.5px;width:1px;height:18.5px;background:#ededed"></div>
<svg class="i" style="left:777.5px;top:1228.0px;" width="6" height="6" viewBox="0 0 8 8"><path d="M1.300 1.300l5.400 5.400M6.700 1.300L1.300 6.700" stroke="#333" stroke-width="1.900"/></svg>
<div style="left:365.5px;top:1240px;width:424.5px;height:19px;background:#f6f6f6;border-top:1px solid #e9e9e9;border-bottom:1px solid #e9e9e9"></div>
<div class="t" style="left:374.30px;top:1244.20px;width:300px;line-height:11px;font-size:7.6px;color:#666;font-weight:400;text-align:left;letter-spacing:.1px;">Today</div>
<div style="left:376.5px;top:1264.25px;width:15px;height:15px;border:1px solid #f6f6f6;background:#fff"></div>
<div class="t" style="left:400.00px;top:1266.25px;width:300px;line-height:11px;font-size:7.9px;color:#6a6a6a;font-weight:400;text-align:left;">Add slider home to creative template</div>
<div style="left:365.5px;top:1283px;width:424.5px;height:1px;background:#eeeeee"></div>
<div style="left:376.5px;top:1290.0px;width:15px;height:15px;border:1px solid #f6f6f6;background:#fff"></div>
<div class="t" style="left:400.00px;top:1292.00px;width:300px;line-height:11px;font-size:7.9px;color:#6a6a6a;font-weight:400;text-align:left;">Change portfolio image with new animation</div>
<div style="left:365.5px;top:1309px;width:424.5px;height:1px;background:#eeeeee"></div>
<div style="left:376.5px;top:1315.75px;width:15px;height:15px;border:1px solid #f6f6f6;background:#fff"></div>
<div class="t" style="left:400.00px;top:1317.75px;width:300px;line-height:11px;font-size:7.9px;color:#6a6a6a;font-weight:400;text-align:left;">Fixed JavaScript problem for index page</div>
<div style="left:365.5px;top:1335px;width:424.5px;height:1px;background:#eeeeee"></div>
<div style="left:365.5px;top:1336px;width:424.5px;height:18.5px;background:#f6f6f6;border-top:1px solid #e9e9e9;border-bottom:1px solid #e9e9e9"></div>
<div class="t" style="left:374.30px;top:1339.95px;width:300px;line-height:11px;font-size:7.6px;color:#666;font-weight:400;text-align:left;letter-spacing:.1px;">Tommorow</div>
<div style="left:376.5px;top:1359.75px;width:15px;height:15px;border:1px solid #f6f6f6;background:#fff"></div>
<div class="t" style="left:400.00px;top:1361.75px;width:300px;line-height:11px;font-size:7.9px;color:#6a6a6a;font-weight:400;text-align:left;">Update sliding menu with newest</div>
<div style="left:365.5px;top:1379px;width:424.5px;height:1px;background:#eeeeee"></div>
<div style="left:376.5px;top:1385.0px;width:15px;height:15px;border:1px solid #f6f6f6;background:#fff"></div>
<div class="t" style="left:400.00px;top:1387.00px;width:300px;line-height:11px;font-size:7.9px;color:#6a6a6a;font-weight:400;text-align:left;">Change navigation structure on header</div>
<div style="left:365.5px;top:1404px;width:424.5px;height:1px;background:#eeeeee"></div>
<div style="left:365.5px;top:1405px;width:424.5px;height:18px;background:#f6f6f6;border-top:1px solid #e9e9e9;border-bottom:1px solid #e9e9e9"></div>
<div class="t" style="left:374.30px;top:1408.70px;width:300px;line-height:11px;font-size:7.6px;color:#666;font-weight:400;text-align:left;letter-spacing:.1px;">Completed</div>
<div class="t" style="left:517.50px;top:1428.50px;width:120px;line-height:11px;font-size:7.8px;color:#e8e8e8;font-weight:400;text-align:center;">No completed tasks</div>
<div style="left:365.5px;top:1445px;width:424.5px;height:58px;background:#f6f6f6;border-top:1px solid #e4e4e4"></div>
<div style="left:374.3px;top:1453.3px;width:408px;height:17.5px;background:#fff;border:1px solid #e6e6e6;border-radius:1px"></div>
<div class="t" style="left:381.00px;top:1457.50px;width:300px;line-height:9px;font-size:6.5px;color:#dadada;font-weight:400;text-align:left;">Add new task...</div>
<svg class="i" style="left:381.5px;top:1483px;" width="6" height="8" viewBox="0 0 9 11"><circle cx="3.500" cy="1.300" r="1.100" fill="#555"/><path d="M3.500 3v3.500h3l1.500 3" fill="none" stroke="#555" stroke-width="1"/><path d="M3.500 4.600h2.500" stroke="#555" stroke-width=".900"/><path d="M2.500 5.300A2.700 2.700 0 1 0 6 9" fill="none" stroke="#555" stroke-width=".900"/></svg>
<svg class="i" style="left:401px;top:1484px;" width="6.5" height="8" viewBox="0 0 8 10"><path d="M.500 0h4.500L8 3v6.500a.500.500 0 0 1-.500.500h-7a.500.500 0 0 1-.500-.500v-9A.500.500 0 0 1 .500 0z" fill="#444"/><path d="M2 5h4M2 6.600h4M2 8.200h4" stroke="#f5f5f5" stroke-width=".700"/></svg>
<svg class="i" style="left:420.5px;top:1484.5px;" width="8" height="7" viewBox="0 0 10 9"><path d="M5 8.700C2 6.300.300 4.800.300 2.800.300 1.400 1.400.400 2.700.400 3.700.400 4.500.900 5 1.700 5.500.900 6.300.400 7.300.400 8.600.400 9.700 1.400 9.700 2.800 9.700 4.800 8 6.300 5 8.700z" fill="#333"/></svg>
<div style="left:742.5px;top:1480px;width:38.5px;height:18.5px;background:#27a9e0"></div>
<div class="t" style="left:741.80px;top:1484.30px;width:40px;line-height:10px;font-size:7px;color:#d9f0fb;font-weight:400;text-align:center;">Submit</div>
<div style="left:135px;top:1586px;width:665px;height:23px;background:#f6f6f6;border-top:1px solid #dedede"></div>
<div class="t" style="left:143.00px;top:1595.00px;width:300px;line-height:7px;font-size:5.2px;color:#555;font-weight:400;text-align:left;letter-spacing:.15px;">Memory</div>
<div style="left:176px;top:1596.3px;width:52.5px;height:4.3px;background:#e9e9e9"></div>
<div style="left:176px;top:1596.3px;width:28.9px;height:4.3px;background:#5cb8e8"></div>
<div class="t" style="left:234.00px;top:1595.00px;width:300px;line-height:7px;font-size:5.3px;color:#555;font-weight:400;text-align:left;letter-spacing:.3px;">4GB of 8GB</div>
<div style="left:304px;top:1587px;width:1px;height:22px;background:#dfdfdf"></div>
<div class="t" style="left:307.00px;top:1595.00px;width:300px;line-height:7px;font-size:5.2px;color:#555;font-weight:400;text-align:left;letter-spacing:.15px;">HDD</div>
<div style="left:341px;top:1596.3px;width:52.5px;height:4.3px;background:#e9e9e9"></div>
<div style="left:341px;top:1596.3px;width:13.1px;height:4.3px;background:#6cb544"></div>
<div class="t" style="left:398.60px;top:1595.00px;width:300px;line-height:7px;font-size:5.3px;color:#555;font-weight:400;text-align:left;letter-spacing:.3px;">250GB of 1TB</div>
<div style="left:470px;top:1587px;width:1px;height:22px;background:#dfdfdf"></div>
<div class="t" style="left:472.70px;top:1595.00px;width:300px;line-height:7px;font-size:5.2px;color:#555;font-weight:400;text-align:left;letter-spacing:.15px;">SSD</div>
<div style="left:506px;top:1596.3px;width:52.5px;height:4.3px;background:#e9e9e9"></div>
<div style="left:506px;top:1596.3px;width:36.8px;height:4.3px;background:#f5b13f"></div>
<div class="t" style="left:563.00px;top:1595.00px;width:300px;line-height:7px;font-size:5.3px;color:#555;font-weight:400;text-align:left;letter-spacing:.3px;">700GB of 1TB</div>
<div style="left:634px;top:1587px;width:1px;height:22px;background:#dfdfdf"></div>
<div class="t" style="left:637.00px;top:1595.00px;width:300px;line-height:7px;font-size:5.2px;color:#555;font-weight:400;text-align:left;letter-spacing:.15px;">Bandwidth</div>
<div style="left:671px;top:1596.3px;width:52.5px;height:4.3px;background:#e9e9e9"></div>
<div style="left:671px;top:1596.3px;width:47.2px;height:4.3px;background:#f0515b"></div>
<div class="t" style="left:728.60px;top:1595.00px;width:300px;line-height:7px;font-size:5.3px;color:#555;font-weight:400;text-align:left;letter-spacing:.3px;">90TB of 100TB</div>
</body></html>
